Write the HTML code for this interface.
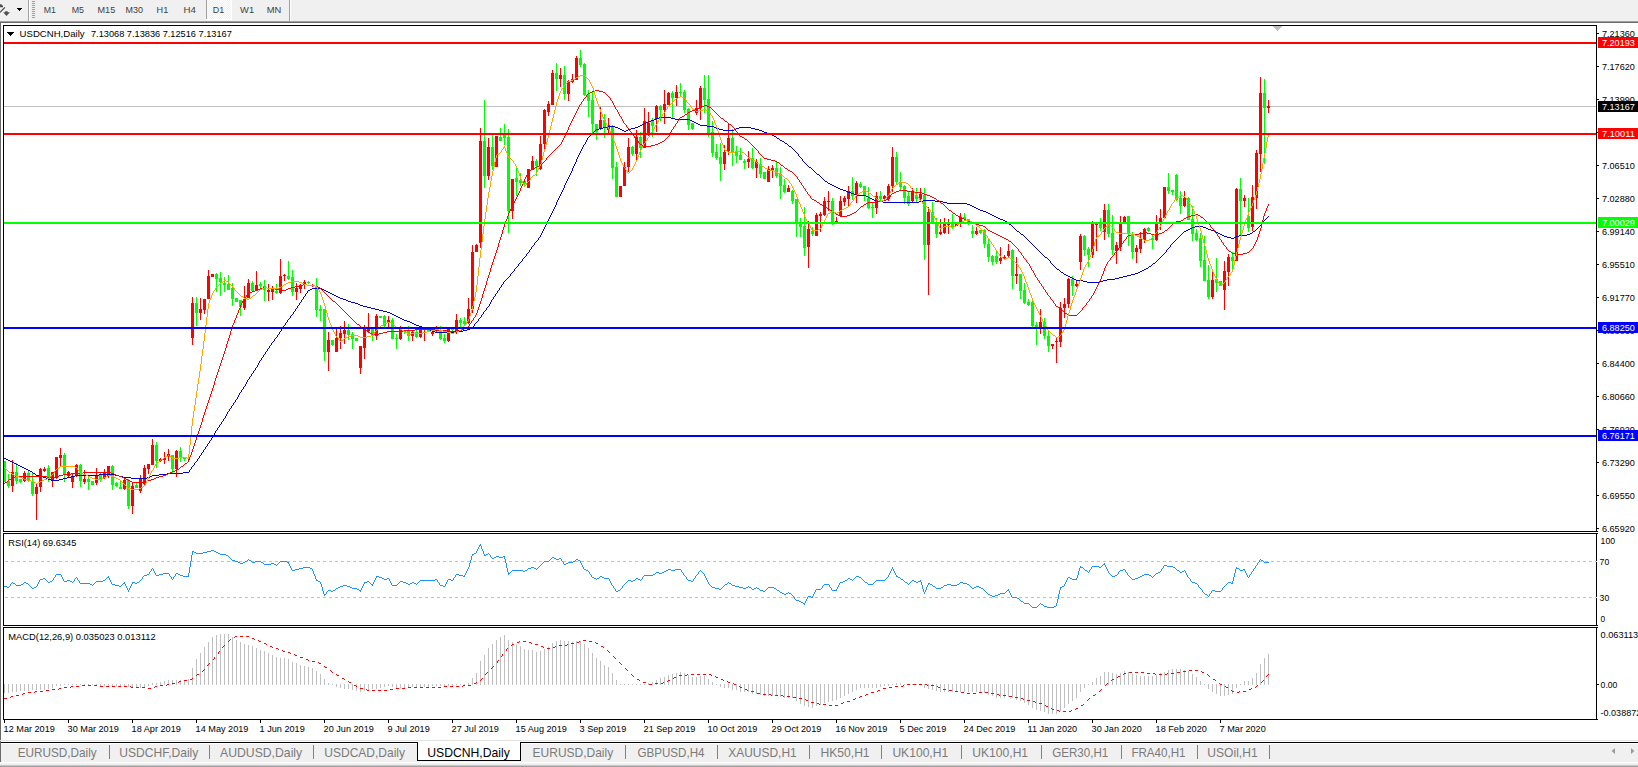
<!DOCTYPE html><html><head><meta charset="utf-8"><title>USDCNH,Daily</title>
<style>html,body{margin:0;padding:0;background:#fff;overflow:hidden}body{width:1638px;height:767px;position:relative;font-family:"Liberation Sans",sans-serif}svg{position:absolute;left:0;top:0;display:block}text{font-family:"Liberation Sans",sans-serif}</style></head><body>
<svg width="1638" height="767" viewBox="0 0 1638 767">
<g shape-rendering="crispEdges">
<rect x="0" y="0" width="1638" height="21" fill="#f0f0f0"/>
<rect x="0" y="21" width="1638" height="1" fill="#a0a0a0"/>
<rect x="0" y="22" width="1638" height="1" fill="#696969"/>
<rect x="0" y="23" width="1" height="719" fill="#696969"/>
<rect x="28" y="0" width="1" height="21" fill="#a0a0a0"/>
<rect x="29" y="0" width="1" height="21" fill="#ffffff"/>
<rect x="289" y="0" width="1" height="21" fill="#a0a0a0"/>
<rect x="290" y="0" width="1" height="21" fill="#ffffff"/>
<rect x="32" y="1" width="3" height="1" fill="#a0a0a0"/>
<rect x="32" y="3" width="3" height="1" fill="#a0a0a0"/>
<rect x="32" y="5" width="3" height="1" fill="#a0a0a0"/>
<rect x="32" y="7" width="3" height="1" fill="#a0a0a0"/>
<rect x="32" y="9" width="3" height="1" fill="#a0a0a0"/>
<rect x="32" y="11" width="3" height="1" fill="#a0a0a0"/>
<rect x="32" y="13" width="3" height="1" fill="#a0a0a0"/>
<rect x="32" y="15" width="3" height="1" fill="#a0a0a0"/>
<rect x="32" y="17" width="3" height="1" fill="#a0a0a0"/>
<defs><pattern id="ck" width="2" height="2" patternUnits="userSpaceOnUse"><rect width="2" height="2" fill="#f0f0f0"/><rect width="1" height="1" fill="#fff"/><rect x="1" y="1" width="1" height="1" fill="#fff"/></pattern></defs>
<rect x="206" y="0" width="1" height="19" fill="#a0a0a0"/>
<rect x="207" y="0" width="24" height="19" fill="url(#ck)"/>
<rect x="231" y="0" width="1" height="20" fill="#ffffff"/>
<rect x="206" y="19" width="26" height="1" fill="#ffffff"/>
<rect x="0" y="740" width="1638" height="1" fill="#e3e3e3"/>
<rect x="0" y="743" width="1638" height="1" fill="#ffffff"/>
<rect x="0" y="744" width="1638" height="18" fill="#f0f0f0"/>
<rect x="0" y="742" width="1638" height="1" fill="#000000"/>
<rect x="0" y="762" width="1638" height="1" fill="#ffffff"/>
<rect x="0" y="763" width="1638" height="1" fill="#f2f2f2"/>
<rect x="0" y="764" width="1638" height="1" fill="#ececec"/>
<rect x="0" y="765" width="1638" height="1" fill="#c8c8c8"/>
<rect x="0" y="766" width="1638" height="1" fill="#a0a0a0"/>
<rect x="0" y="742" width="1" height="20" fill="#696969"/>
<rect x="417" y="742" width="104" height="19" fill="#ffffff"/>
<rect x="417" y="742" width="1" height="19" fill="#000"/>
<rect x="520" y="742" width="1" height="19" fill="#000"/>
<rect x="417" y="760" width="104" height="1" fill="#000"/>
<rect x="418" y="742" width="102" height="1" fill="#ffffff"/>
<rect x="109" y="745" width="1" height="14" fill="#808080"/>
<rect x="209" y="745" width="1" height="14" fill="#808080"/>
<rect x="313" y="745" width="1" height="14" fill="#808080"/>
<rect x="625" y="745" width="1" height="14" fill="#808080"/>
<rect x="717" y="745" width="1" height="14" fill="#808080"/>
<rect x="809" y="745" width="1" height="14" fill="#808080"/>
<rect x="881" y="745" width="1" height="14" fill="#808080"/>
<rect x="961" y="745" width="1" height="14" fill="#808080"/>
<rect x="1041" y="745" width="1" height="14" fill="#808080"/>
<rect x="1121" y="745" width="1" height="14" fill="#808080"/>
<rect x="1197" y="745" width="1" height="14" fill="#808080"/>
<rect x="1269" y="745" width="1" height="14" fill="#808080"/>
<rect x="3" y="25" width="1594" height="1" fill="#000"/>
<rect x="3" y="531" width="1594" height="1" fill="#000"/>
<rect x="3" y="25" width="1" height="507" fill="#000"/>
<rect x="1596" y="25" width="1" height="507" fill="#000"/>
<rect x="3" y="533" width="1594" height="1" fill="#000"/>
<rect x="3" y="625" width="1594" height="1" fill="#000"/>
<rect x="3" y="533" width="1" height="93" fill="#000"/>
<rect x="1596" y="533" width="1" height="93" fill="#000"/>
<rect x="3" y="627" width="1594" height="1" fill="#000"/>
<rect x="3" y="719" width="1594" height="1" fill="#000"/>
<rect x="3" y="627" width="1" height="93" fill="#000"/>
<rect x="1596" y="627" width="1" height="93" fill="#000"/>
<rect x="1597" y="33" width="2" height="1" fill="#000"/>
<rect x="1597" y="66" width="2" height="1" fill="#000"/>
<rect x="1597" y="99" width="2" height="1" fill="#000"/>
<rect x="1597" y="132" width="2" height="1" fill="#000"/>
<rect x="1597" y="165" width="2" height="1" fill="#000"/>
<rect x="1597" y="198" width="2" height="1" fill="#000"/>
<rect x="1597" y="231" width="2" height="1" fill="#000"/>
<rect x="1597" y="264" width="2" height="1" fill="#000"/>
<rect x="1597" y="297" width="2" height="1" fill="#000"/>
<rect x="1597" y="330" width="2" height="1" fill="#000"/>
<rect x="1597" y="363" width="2" height="1" fill="#000"/>
<rect x="1597" y="396" width="2" height="1" fill="#000"/>
<rect x="1597" y="429" width="2" height="1" fill="#000"/>
<rect x="1597" y="462" width="2" height="1" fill="#000"/>
<rect x="1597" y="495" width="2" height="1" fill="#000"/>
<rect x="1597" y="528" width="2" height="1" fill="#000"/>
<rect x="1597" y="684" width="2" height="1" fill="#000"/>
<rect x="1597" y="531" width="1" height="1" fill="#000"/>
<rect x="1597" y="533" width="1" height="1" fill="#000"/>
<rect x="1597" y="625" width="1" height="1" fill="#000"/>
<rect x="1597" y="627" width="1" height="1" fill="#000"/>
<rect x="1597" y="719" width="1" height="1" fill="#000"/>
<rect x="4" y="720" width="1" height="3" fill="#000"/>
<rect x="68" y="720" width="1" height="3" fill="#000"/>
<rect x="132" y="720" width="1" height="3" fill="#000"/>
<rect x="196" y="720" width="1" height="3" fill="#000"/>
<rect x="260" y="720" width="1" height="3" fill="#000"/>
<rect x="324" y="720" width="1" height="3" fill="#000"/>
<rect x="388" y="720" width="1" height="3" fill="#000"/>
<rect x="452" y="720" width="1" height="3" fill="#000"/>
<rect x="516" y="720" width="1" height="3" fill="#000"/>
<rect x="580" y="720" width="1" height="3" fill="#000"/>
<rect x="644" y="720" width="1" height="3" fill="#000"/>
<rect x="708" y="720" width="1" height="3" fill="#000"/>
<rect x="772" y="720" width="1" height="3" fill="#000"/>
<rect x="836" y="720" width="1" height="3" fill="#000"/>
<rect x="900" y="720" width="1" height="3" fill="#000"/>
<rect x="964" y="720" width="1" height="3" fill="#000"/>
<rect x="1028" y="720" width="1" height="3" fill="#000"/>
<rect x="1092" y="720" width="1" height="3" fill="#000"/>
<rect x="1156" y="720" width="1" height="3" fill="#000"/>
<rect x="1220" y="720" width="1" height="3" fill="#000"/>
</g>
<defs><clipPath id="cm"><rect x="4" y="26" width="1592" height="505"/></clipPath><clipPath id="cr"><rect x="4" y="534" width="1592" height="91"/></clipPath><clipPath id="cd"><rect x="4" y="628" width="1592" height="91"/></clipPath></defs>
<g clip-path="url(#cm)" shape-rendering="crispEdges">
<rect x="4" y="106" width="1592" height="1" fill="#c0c0c0"/>
<path d="M1272 26h10l-5 5z" fill="#c0c0c0"/>
<path d="M4 461h1v21h-1zM3 461h3v21h-3z" fill="#00ff00"/>
<path d="M8 474h1v14h-1zM7 481h3v5h-3z" fill="#00ff00"/>
<path d="M12 460h1v32h-1zM11 472h3v14h-3z" fill="#ff0000"/>
<path d="M16 463h1v21h-1zM15 472h3v9h-3z" fill="#00ff00"/>
<path d="M20 479h1v4h-1zM19 479h3v3h-3z" fill="#00ff00"/>
<path d="M24 471h1v11h-1zM23 473h3v8h-3z" fill="#ff0000"/>
<path d="M28 471h1v11h-1zM27 473h3v8h-3z" fill="#00ff00"/>
<path d="M32 473h1v23h-1zM31 481h3v13h-3z" fill="#00ff00"/>
<path d="M36 483h1v37h-1zM35 487h3v7h-3z" fill="#ff0000"/>
<path d="M40 468h1v24h-1zM39 469h3v18h-3z" fill="#ff0000"/>
<path d="M44 467h1v5h-1zM43 469h3v2h-3z" fill="#ff0000"/>
<path d="M48 465h1v17h-1zM47 468h3v11h-3z" fill="#00ff00"/>
<path d="M52 472h1v15h-1zM51 472h3v8h-3z" fill="#ff0000"/>
<path d="M56 457h1v22h-1zM55 457h3v21h-3z" fill="#ff0000"/>
<path d="M60 448h1v18h-1zM59 455h3v3h-3z" fill="#ff0000"/>
<path d="M64 453h1v29h-1zM63 455h3v19h-3z" fill="#00ff00"/>
<path d="M68 471h1v6h-1zM67 472h3v4h-3z" fill="#ff0000"/>
<path d="M72 474h1v14h-1zM71 477h3v5h-3z" fill="#ff0000"/>
<path d="M76 464h1v13h-1zM75 465h3v11h-3z" fill="#ff0000"/>
<path d="M80 464h1v23h-1zM79 465h3v16h-3z" fill="#00ff00"/>
<path d="M84 470h1v14h-1zM83 479h3v3h-3z" fill="#ff0000"/>
<path d="M88 477h1v13h-1zM87 479h3v3h-3z" fill="#00ff00"/>
<path d="M92 481h1v4h-1zM91 481h3v4h-3z" fill="#00ff00"/>
<path d="M96 468h1v17h-1zM95 475h3v8h-3z" fill="#ff0000"/>
<path d="M100 472h1v10h-1zM99 474h3v5h-3z" fill="#00ff00"/>
<path d="M104 469h1v10h-1zM103 472h3v6h-3z" fill="#ff0000"/>
<path d="M108 466h1v12h-1zM107 466h3v10h-3z" fill="#ff0000"/>
<path d="M112 465h1v25h-1zM111 466h3v19h-3z" fill="#00ff00"/>
<path d="M116 482h1v5h-1zM115 483h3v3h-3z" fill="#00ff00"/>
<path d="M120 481h1v8h-1zM119 487h3v2h-3z" fill="#00ff00"/>
<path d="M124 478h1v12h-1zM123 480h3v9h-3z" fill="#ff0000"/>
<path d="M128 479h1v30h-1zM127 480h3v26h-3z" fill="#00ff00"/>
<path d="M132 482h1v32h-1zM131 486h3v20h-3z" fill="#ff0000"/>
<path d="M136 483h1v5h-1zM135 485h3v3h-3z" fill="#00ff00"/>
<path d="M140 475h1v18h-1zM139 479h3v12h-3z" fill="#ff0000"/>
<path d="M144 465h1v20h-1zM143 468h3v16h-3z" fill="#ff0000"/>
<path d="M148 464h1v10h-1zM147 464h3v5h-3z" fill="#ff0000"/>
<path d="M152 439h1v26h-1zM151 445h3v20h-3z" fill="#ff0000"/>
<path d="M156 442h1v26h-1zM155 445h3v16h-3z" fill="#00ff00"/>
<path d="M160 458h1v4h-1zM159 459h3v2h-3z" fill="#ff0000"/>
<path d="M164 452h1v12h-1zM163 458h3v2h-3z" fill="#ff0000"/>
<path d="M168 449h1v12h-1zM167 454h3v3h-3z" fill="#ff0000"/>
<path d="M172 455h1v18h-1zM171 455h3v14h-3z" fill="#00ff00"/>
<path d="M176 450h1v27h-1zM175 451h3v18h-3z" fill="#ff0000"/>
<path d="M180 447h1v15h-1zM179 451h3v7h-3z" fill="#00ff00"/>
<path d="M184 457h1v4h-1zM183 458h3v1h-3z" fill="#00ff00"/>
<path d="M188 458h1v2h-1zM187 458h3v1h-3z" fill="#ff0000"/>
<path d="M192 297h1v48h-1zM191 303h3v35h-3z" fill="#ff0000"/>
<path d="M196 297h1v29h-1zM195 303h3v10h-3z" fill="#00ff00"/>
<path d="M200 298h1v22h-1zM199 309h3v4h-3z" fill="#ff0000"/>
<path d="M204 299h1v15h-1zM203 299h3v11h-3z" fill="#ff0000"/>
<path d="M208 270h1v29h-1zM207 276h3v23h-3z" fill="#ff0000"/>
<path d="M212 274h1v3h-1zM211 274h3v3h-3z" fill="#ff0000"/>
<path d="M216 273h1v19h-1zM215 274h3v5h-3z" fill="#00ff00"/>
<path d="M220 272h1v24h-1zM219 278h3v4h-3z" fill="#00ff00"/>
<path d="M224 277h1v15h-1zM223 283h3v2h-3z" fill="#00ff00"/>
<path d="M228 275h1v15h-1zM227 284h3v6h-3z" fill="#00ff00"/>
<path d="M232 283h1v23h-1zM231 288h3v11h-3z" fill="#00ff00"/>
<path d="M236 298h1v4h-1zM235 298h3v4h-3z" fill="#00ff00"/>
<path d="M240 300h1v16h-1zM239 300h3v7h-3z" fill="#00ff00"/>
<path d="M244 286h1v24h-1zM243 299h3v9h-3z" fill="#ff0000"/>
<path d="M248 279h1v19h-1zM247 283h3v15h-3z" fill="#ff0000"/>
<path d="M252 281h1v10h-1zM251 283h3v8h-3z" fill="#00ff00"/>
<path d="M256 271h1v20h-1zM255 285h3v6h-3z" fill="#ff0000"/>
<path d="M260 282h1v6h-1zM259 284h3v2h-3z" fill="#00ff00"/>
<path d="M264 280h1v21h-1zM263 286h3v4h-3z" fill="#00ff00"/>
<path d="M268 284h1v17h-1zM267 290h3v2h-3z" fill="#ff0000"/>
<path d="M272 286h1v14h-1zM271 289h3v3h-3z" fill="#ff0000"/>
<path d="M276 284h1v10h-1zM275 291h3v2h-3z" fill="#00ff00"/>
<path d="M280 259h1v35h-1zM279 276h3v17h-3z" fill="#ff0000"/>
<path d="M284 274h1v7h-1zM283 275h3v1h-3z" fill="#ff0000"/>
<path d="M288 261h1v19h-1zM287 276h3v3h-3z" fill="#00ff00"/>
<path d="M292 270h1v26h-1zM291 277h3v15h-3z" fill="#00ff00"/>
<path d="M296 283h1v17h-1zM295 288h3v4h-3z" fill="#ff0000"/>
<path d="M300 284h1v9h-1zM299 285h3v4h-3z" fill="#ff0000"/>
<path d="M304 280h1v9h-1zM303 282h3v2h-3z" fill="#ff0000"/>
<path d="M308 281h1v3h-1zM307 282h3v1h-3z" fill="#00ff00"/>
<path d="M312 284h1v3h-1zM311 285h3v1h-3z" fill="#ff0000"/>
<path d="M316 278h1v39h-1zM315 286h3v24h-3z" fill="#00ff00"/>
<path d="M320 305h1v16h-1zM319 309h3v2h-3z" fill="#00ff00"/>
<path d="M324 309h1v52h-1zM323 309h3v43h-3z" fill="#00ff00"/>
<path d="M328 332h1v39h-1zM327 340h3v12h-3z" fill="#ff0000"/>
<path d="M332 340h1v6h-1zM331 340h3v5h-3z" fill="#00ff00"/>
<path d="M336 329h1v23h-1zM335 338h3v14h-3z" fill="#ff0000"/>
<path d="M340 326h1v23h-1zM339 333h3v5h-3z" fill="#ff0000"/>
<path d="M344 321h1v23h-1zM343 330h3v4h-3z" fill="#ff0000"/>
<path d="M348 324h1v16h-1zM347 330h3v5h-3z" fill="#00ff00"/>
<path d="M352 332h1v17h-1zM351 334h3v5h-3z" fill="#00ff00"/>
<path d="M356 338h1v3h-1zM355 338h3v3h-3z" fill="#00ff00"/>
<path d="M360 346h1v28h-1zM359 346h3v22h-3z" fill="#ff0000"/>
<path d="M364 325h1v34h-1zM363 329h3v19h-3z" fill="#ff0000"/>
<path d="M368 313h1v19h-1zM367 329h3v2h-3z" fill="#ff0000"/>
<path d="M372 329h1v12h-1zM371 329h3v7h-3z" fill="#00ff00"/>
<path d="M376 314h1v26h-1zM375 316h3v20h-3z" fill="#ff0000"/>
<path d="M380 316h1v2h-1zM379 316h3v2h-3z" fill="#00ff00"/>
<path d="M384 315h1v12h-1zM383 316h3v10h-3z" fill="#00ff00"/>
<path d="M388 316h1v13h-1zM387 320h3v3h-3z" fill="#ff0000"/>
<path d="M392 318h1v21h-1zM391 320h3v19h-3z" fill="#00ff00"/>
<path d="M396 334h1v15h-1zM395 338h3v1h-3z" fill="#00ff00"/>
<path d="M400 326h1v14h-1zM399 329h3v10h-3z" fill="#ff0000"/>
<path d="M404 330h1v4h-1zM403 331h3v1h-3z" fill="#00ff00"/>
<path d="M408 326h1v15h-1zM407 330h3v6h-3z" fill="#00ff00"/>
<path d="M412 331h1v10h-1zM411 332h3v4h-3z" fill="#ff0000"/>
<path d="M416 329h1v9h-1zM415 332h3v5h-3z" fill="#00ff00"/>
<path d="M420 326h1v12h-1zM419 329h3v8h-3z" fill="#ff0000"/>
<path d="M424 329h1v12h-1zM423 329h3v1h-3z" fill="#ff0000"/>
<path d="M428 329h1v3h-1zM427 330h3v1h-3z" fill="#00ff00"/>
<path d="M432 331h1v5h-1zM431 332h3v2h-3z" fill="#ff0000"/>
<path d="M436 326h1v6h-1zM435 329h3v2h-3z" fill="#ff0000"/>
<path d="M440 326h1v14h-1zM439 330h3v9h-3z" fill="#00ff00"/>
<path d="M444 334h1v9h-1zM443 338h3v3h-3z" fill="#00ff00"/>
<path d="M448 329h1v13h-1zM447 329h3v12h-3z" fill="#ff0000"/>
<path d="M452 328h1v3h-1zM451 329h3v1h-3z" fill="#00ff00"/>
<path d="M456 314h1v20h-1zM455 320h3v10h-3z" fill="#ff0000"/>
<path d="M460 318h1v9h-1zM459 320h3v3h-3z" fill="#00ff00"/>
<path d="M464 317h1v8h-1zM463 321h3v3h-3z" fill="#00ff00"/>
<path d="M468 298h1v26h-1zM467 309h3v14h-3z" fill="#ff0000"/>
<path d="M472 245h1v68h-1zM471 252h3v57h-3z" fill="#ff0000"/>
<path d="M476 244h1v8h-1zM475 245h3v7h-3z" fill="#ff0000"/>
<path d="M480 128h1v120h-1zM479 141h3v102h-3z" fill="#ff0000"/>
<path d="M484 100h1v88h-1zM483 141h3v35h-3z" fill="#00ff00"/>
<path d="M488 138h1v42h-1zM487 147h3v29h-3z" fill="#ff0000"/>
<path d="M492 135h1v35h-1zM491 147h3v19h-3z" fill="#00ff00"/>
<path d="M496 136h1v31h-1zM495 136h3v31h-3z" fill="#ff0000"/>
<path d="M500 128h1v13h-1zM499 137h3v4h-3z" fill="#00ff00"/>
<path d="M504 124h1v21h-1zM503 135h3v3h-3z" fill="#00ff00"/>
<path d="M508 129h1v104h-1zM507 137h3v74h-3z" fill="#00ff00"/>
<path d="M512 179h1v40h-1zM511 179h3v32h-3z" fill="#ff0000"/>
<path d="M516 167h1v29h-1zM515 178h3v4h-3z" fill="#00ff00"/>
<path d="M520 173h1v13h-1zM519 180h3v3h-3z" fill="#00ff00"/>
<path d="M524 181h1v6h-1zM523 181h3v3h-3z" fill="#00ff00"/>
<path d="M528 169h1v19h-1zM527 169h3v19h-3z" fill="#ff0000"/>
<path d="M532 156h1v14h-1zM531 161h3v9h-3z" fill="#ff0000"/>
<path d="M536 159h1v17h-1zM535 161h3v5h-3z" fill="#00ff00"/>
<path d="M540 136h1v34h-1zM539 144h3v25h-3z" fill="#ff0000"/>
<path d="M544 109h1v40h-1zM543 110h3v34h-3z" fill="#ff0000"/>
<path d="M548 101h1v15h-1zM547 104h3v8h-3z" fill="#ff0000"/>
<path d="M552 70h1v35h-1zM551 73h3v32h-3z" fill="#ff0000"/>
<path d="M556 63h1v28h-1zM555 73h3v6h-3z" fill="#00ff00"/>
<path d="M560 68h1v19h-1zM559 75h3v4h-3z" fill="#ff0000"/>
<path d="M564 66h1v34h-1zM563 75h3v19h-3z" fill="#00ff00"/>
<path d="M568 80h1v21h-1zM567 81h3v13h-3z" fill="#ff0000"/>
<path d="M572 74h1v9h-1zM571 79h3v3h-3z" fill="#ff0000"/>
<path d="M576 56h1v24h-1zM575 58h3v22h-3z" fill="#ff0000"/>
<path d="M580 50h1v17h-1zM579 58h3v7h-3z" fill="#00ff00"/>
<path d="M584 63h1v33h-1zM583 64h3v31h-3z" fill="#00ff00"/>
<path d="M588 90h1v27h-1zM587 95h3v6h-3z" fill="#00ff00"/>
<path d="M592 92h1v41h-1zM591 100h3v24h-3z" fill="#00ff00"/>
<path d="M596 124h1v16h-1zM595 124h3v8h-3z" fill="#00ff00"/>
<path d="M600 107h1v23h-1zM599 120h3v8h-3z" fill="#ff0000"/>
<path d="M604 114h1v24h-1zM603 120h3v7h-3z" fill="#00ff00"/>
<path d="M608 118h1v16h-1zM607 125h3v5h-3z" fill="#ff0000"/>
<path d="M612 125h1v54h-1zM611 126h3v42h-3z" fill="#00ff00"/>
<path d="M616 162h1v35h-1zM615 167h3v30h-3z" fill="#00ff00"/>
<path d="M620 186h1v11h-1zM619 186h3v11h-3z" fill="#ff0000"/>
<path d="M624 162h1v24h-1zM623 167h3v19h-3z" fill="#ff0000"/>
<path d="M628 138h1v34h-1zM627 147h3v20h-3z" fill="#ff0000"/>
<path d="M632 146h1v10h-1zM631 147h3v7h-3z" fill="#00ff00"/>
<path d="M636 130h1v30h-1zM635 137h3v17h-3z" fill="#ff0000"/>
<path d="M640 132h1v26h-1zM639 137h3v11h-3z" fill="#00ff00"/>
<path d="M644 108h1v40h-1zM643 121h3v27h-3z" fill="#ff0000"/>
<path d="M648 112h1v24h-1zM647 123h3v12h-3z" fill="#ff0000"/>
<path d="M652 118h1v19h-1zM651 121h3v5h-3z" fill="#00ff00"/>
<path d="M656 105h1v27h-1zM655 106h3v13h-3z" fill="#ff0000"/>
<path d="M660 105h1v16h-1zM659 106h3v4h-3z" fill="#00ff00"/>
<path d="M664 90h1v34h-1zM663 104h3v6h-3z" fill="#ff0000"/>
<path d="M668 92h1v13h-1zM667 93h3v12h-3z" fill="#ff0000"/>
<path d="M672 91h1v27h-1zM671 93h3v5h-3z" fill="#00ff00"/>
<path d="M676 85h1v21h-1zM675 92h3v6h-3z" fill="#ff0000"/>
<path d="M680 83h1v13h-1zM679 92h3v1h-3z" fill="#00ff00"/>
<path d="M684 90h1v23h-1zM683 92h3v18h-3z" fill="#00ff00"/>
<path d="M688 108h1v22h-1zM687 109h3v16h-3z" fill="#00ff00"/>
<path d="M692 123h1v7h-1zM691 123h3v6h-3z" fill="#00ff00"/>
<path d="M696 100h1v15h-1zM695 108h3v5h-3z" fill="#ff0000"/>
<path d="M700 86h1v34h-1zM699 88h3v20h-3z" fill="#ff0000"/>
<path d="M704 75h1v38h-1zM703 88h3v12h-3z" fill="#00ff00"/>
<path d="M708 75h1v62h-1zM707 99h3v34h-3z" fill="#00ff00"/>
<path d="M712 121h1v36h-1zM711 132h3v21h-3z" fill="#00ff00"/>
<path d="M716 144h1v16h-1zM715 152h3v6h-3z" fill="#00ff00"/>
<path d="M720 143h1v38h-1zM719 157h3v7h-3z" fill="#00ff00"/>
<path d="M724 145h1v25h-1zM723 152h3v12h-3z" fill="#ff0000"/>
<path d="M728 124h1v31h-1zM727 138h3v13h-3z" fill="#ff0000"/>
<path d="M732 129h1v37h-1zM731 138h3v14h-3z" fill="#00ff00"/>
<path d="M736 146h1v17h-1zM735 152h3v4h-3z" fill="#00ff00"/>
<path d="M740 148h1v12h-1zM739 155h3v5h-3z" fill="#00ff00"/>
<path d="M744 159h1v10h-1zM743 161h3v2h-3z" fill="#00ff00"/>
<path d="M748 151h1v17h-1zM747 159h3v3h-3z" fill="#ff0000"/>
<path d="M752 148h1v21h-1zM751 158h3v10h-3z" fill="#00ff00"/>
<path d="M756 159h1v19h-1zM755 162h3v6h-3z" fill="#ff0000"/>
<path d="M760 158h1v20h-1zM759 164h3v10h-3z" fill="#00ff00"/>
<path d="M764 172h1v7h-1zM763 172h3v7h-3z" fill="#00ff00"/>
<path d="M768 166h1v16h-1zM767 169h3v13h-3z" fill="#ff0000"/>
<path d="M772 165h1v13h-1zM771 168h3v2h-3z" fill="#ff0000"/>
<path d="M776 162h1v16h-1zM775 168h3v8h-3z" fill="#00ff00"/>
<path d="M780 167h1v32h-1zM779 174h3v12h-3z" fill="#00ff00"/>
<path d="M784 179h1v14h-1zM783 185h3v7h-3z" fill="#00ff00"/>
<path d="M788 185h1v7h-1zM787 188h3v4h-3z" fill="#ff0000"/>
<path d="M792 190h1v14h-1zM791 191h3v10h-3z" fill="#00ff00"/>
<path d="M796 199h1v38h-1zM795 199h3v23h-3z" fill="#00ff00"/>
<path d="M800 218h1v19h-1zM799 222h3v5h-3z" fill="#00ff00"/>
<path d="M804 207h1v49h-1zM803 226h3v22h-3z" fill="#00ff00"/>
<path d="M808 221h1v47h-1zM807 229h3v18h-3z" fill="#ff0000"/>
<path d="M812 227h1v9h-1zM811 231h3v3h-3z" fill="#00ff00"/>
<path d="M816 213h1v23h-1zM815 215h3v21h-3z" fill="#ff0000"/>
<path d="M820 212h1v20h-1zM819 214h3v2h-3z" fill="#ff0000"/>
<path d="M824 197h1v19h-1zM823 201h3v14h-3z" fill="#ff0000"/>
<path d="M828 191h1v20h-1zM827 201h3v1h-3z" fill="#ff0000"/>
<path d="M832 198h1v27h-1zM831 201h3v22h-3z" fill="#00ff00"/>
<path d="M836 217h1v5h-1zM835 221h3v1h-3z" fill="#ff0000"/>
<path d="M840 196h1v20h-1zM839 201h3v15h-3z" fill="#ff0000"/>
<path d="M844 196h1v10h-1zM843 198h3v4h-3z" fill="#ff0000"/>
<path d="M848 186h1v21h-1zM847 191h3v8h-3z" fill="#ff0000"/>
<path d="M852 177h1v23h-1zM851 191h3v5h-3z" fill="#00ff00"/>
<path d="M856 181h1v22h-1zM855 183h3v12h-3z" fill="#ff0000"/>
<path d="M860 182h1v6h-1zM859 184h3v3h-3z" fill="#00ff00"/>
<path d="M864 186h1v15h-1zM863 186h3v10h-3z" fill="#00ff00"/>
<path d="M868 187h1v22h-1zM867 198h3v10h-3z" fill="#00ff00"/>
<path d="M872 203h1v15h-1zM871 207h3v1h-3z" fill="#00ff00"/>
<path d="M876 192h1v22h-1zM875 196h3v12h-3z" fill="#ff0000"/>
<path d="M880 191h1v11h-1zM879 196h3v3h-3z" fill="#00ff00"/>
<path d="M884 195h1v4h-1zM883 196h3v3h-3z" fill="#ff0000"/>
<path d="M888 184h1v17h-1zM887 186h3v13h-3z" fill="#ff0000"/>
<path d="M892 147h1v45h-1zM891 157h3v29h-3z" fill="#ff0000"/>
<path d="M896 152h1v32h-1zM895 157h3v25h-3z" fill="#00ff00"/>
<path d="M900 172h1v18h-1zM899 182h3v5h-3z" fill="#00ff00"/>
<path d="M904 185h1v19h-1zM903 186h3v12h-3z" fill="#00ff00"/>
<path d="M908 192h1v14h-1zM907 196h3v8h-3z" fill="#00ff00"/>
<path d="M912 188h1v14h-1zM911 191h3v10h-3z" fill="#ff0000"/>
<path d="M916 188h1v14h-1zM915 195h3v4h-3z" fill="#00ff00"/>
<path d="M920 188h1v13h-1zM919 194h3v5h-3z" fill="#ff0000"/>
<path d="M924 188h1v72h-1zM923 195h3v50h-3z" fill="#00ff00"/>
<path d="M928 207h1v88h-1zM927 212h3v33h-3z" fill="#ff0000"/>
<path d="M932 202h1v21h-1zM931 212h3v10h-3z" fill="#00ff00"/>
<path d="M936 218h1v20h-1zM935 224h3v10h-3z" fill="#00ff00"/>
<path d="M940 219h1v16h-1zM939 232h3v2h-3z" fill="#ff0000"/>
<path d="M944 218h1v16h-1zM943 224h3v9h-3z" fill="#ff0000"/>
<path d="M948 219h1v15h-1zM947 224h3v1h-3z" fill="#ff0000"/>
<path d="M952 214h1v15h-1zM951 224h3v3h-3z" fill="#00ff00"/>
<path d="M956 224h1v2h-1zM955 224h3v2h-3z" fill="#ff0000"/>
<path d="M960 213h1v14h-1zM959 217h3v7h-3z" fill="#ff0000"/>
<path d="M964 213h1v7h-1zM963 217h3v2h-3z" fill="#00ff00"/>
<path d="M968 219h1v6h-1zM967 219h3v3h-3z" fill="#00ff00"/>
<path d="M972 225h1v13h-1zM971 231h3v3h-3z" fill="#00ff00"/>
<path d="M976 227h1v8h-1zM975 231h3v3h-3z" fill="#ff0000"/>
<path d="M980 230h1v4h-1zM979 230h3v3h-3z" fill="#00ff00"/>
<path d="M984 229h1v19h-1zM983 230h3v14h-3z" fill="#00ff00"/>
<path d="M988 239h1v23h-1zM987 244h3v13h-3z" fill="#00ff00"/>
<path d="M992 255h1v10h-1zM991 256h3v6h-3z" fill="#00ff00"/>
<path d="M996 251h1v13h-1zM995 256h3v6h-3z" fill="#00ff00"/>
<path d="M1000 247h1v17h-1zM999 258h3v3h-3z" fill="#ff0000"/>
<path d="M1004 255h1v5h-1zM1003 257h3v1h-3z" fill="#ff0000"/>
<path d="M1008 244h1v14h-1zM1007 251h3v5h-3z" fill="#ff0000"/>
<path d="M1012 249h1v40h-1zM1011 250h3v26h-3z" fill="#00ff00"/>
<path d="M1016 257h1v27h-1zM1015 274h3v2h-3z" fill="#ff0000"/>
<path d="M1020 274h1v25h-1zM1019 274h3v17h-3z" fill="#00ff00"/>
<path d="M1024 283h1v21h-1zM1023 290h3v13h-3z" fill="#00ff00"/>
<path d="M1028 299h1v7h-1zM1027 302h3v3h-3z" fill="#00ff00"/>
<path d="M1032 301h1v26h-1zM1031 302h3v24h-3z" fill="#00ff00"/>
<path d="M1036 322h1v23h-1zM1035 325h3v4h-3z" fill="#00ff00"/>
<path d="M1040 309h1v25h-1zM1039 322h3v7h-3z" fill="#ff0000"/>
<path d="M1044 318h1v21h-1zM1043 322h3v14h-3z" fill="#00ff00"/>
<path d="M1048 330h1v22h-1zM1047 336h3v10h-3z" fill="#00ff00"/>
<path d="M1052 344h1v5h-1zM1051 344h3v2h-3z" fill="#ff0000"/>
<path d="M1056 338h1v25h-1zM1055 341h3v1h-3z" fill="#ff0000"/>
<path d="M1060 302h1v45h-1zM1059 308h3v34h-3z" fill="#ff0000"/>
<path d="M1064 298h1v20h-1zM1063 304h3v4h-3z" fill="#ff0000"/>
<path d="M1068 278h1v30h-1zM1067 279h3v25h-3z" fill="#ff0000"/>
<path d="M1072 276h1v20h-1zM1071 279h3v7h-3z" fill="#00ff00"/>
<path d="M1076 281h1v6h-1zM1075 284h3v2h-3z" fill="#ff0000"/>
<path d="M1080 234h1v36h-1zM1079 236h3v26h-3z" fill="#ff0000"/>
<path d="M1084 235h1v21h-1zM1083 236h3v14h-3z" fill="#00ff00"/>
<path d="M1088 247h1v20h-1zM1087 249h3v6h-3z" fill="#00ff00"/>
<path d="M1092 221h1v37h-1zM1091 224h3v31h-3z" fill="#ff0000"/>
<path d="M1096 224h1v27h-1zM1095 224h3v1h-3z" fill="#ff0000"/>
<path d="M1100 218h1v13h-1zM1099 223h3v5h-3z" fill="#00ff00"/>
<path d="M1104 204h1v36h-1zM1103 210h3v22h-3z" fill="#ff0000"/>
<path d="M1108 204h1v33h-1zM1107 210h3v24h-3z" fill="#00ff00"/>
<path d="M1112 215h1v40h-1zM1111 233h3v17h-3z" fill="#00ff00"/>
<path d="M1116 242h1v22h-1zM1115 245h3v6h-3z" fill="#ff0000"/>
<path d="M1120 216h1v35h-1zM1119 224h3v23h-3z" fill="#ff0000"/>
<path d="M1124 216h1v6h-1zM1123 217h3v5h-3z" fill="#ff0000"/>
<path d="M1128 216h1v30h-1zM1127 216h3v18h-3z" fill="#00ff00"/>
<path d="M1132 232h1v27h-1zM1131 234h3v18h-3z" fill="#00ff00"/>
<path d="M1136 245h1v18h-1zM1135 248h3v4h-3z" fill="#ff0000"/>
<path d="M1140 232h1v21h-1zM1139 239h3v10h-3z" fill="#ff0000"/>
<path d="M1144 228h1v15h-1zM1143 229h3v11h-3z" fill="#ff0000"/>
<path d="M1148 227h1v5h-1zM1147 228h3v3h-3z" fill="#00ff00"/>
<path d="M1152 234h1v15h-1zM1151 238h3v2h-3z" fill="#00ff00"/>
<path d="M1156 215h1v26h-1zM1155 224h3v16h-3z" fill="#ff0000"/>
<path d="M1160 209h1v21h-1zM1159 218h3v4h-3z" fill="#ff0000"/>
<path d="M1164 187h1v31h-1zM1163 187h3v31h-3z" fill="#ff0000"/>
<path d="M1168 173h1v21h-1zM1167 187h3v4h-3z" fill="#00ff00"/>
<path d="M1172 190h1v5h-1zM1171 190h3v2h-3z" fill="#00ff00"/>
<path d="M1176 174h1v27h-1zM1175 175h3v25h-3z" fill="#00ff00"/>
<path d="M1180 191h1v23h-1zM1179 198h3v8h-3z" fill="#00ff00"/>
<path d="M1184 191h1v16h-1zM1183 198h3v8h-3z" fill="#ff0000"/>
<path d="M1188 197h1v23h-1zM1187 198h3v22h-3z" fill="#00ff00"/>
<path d="M1192 206h1v35h-1zM1191 219h3v15h-3z" fill="#00ff00"/>
<path d="M1196 229h1v12h-1zM1195 233h3v7h-3z" fill="#00ff00"/>
<path d="M1200 233h1v34h-1zM1199 238h3v23h-3z" fill="#00ff00"/>
<path d="M1204 236h1v45h-1zM1203 260h3v21h-3z" fill="#00ff00"/>
<path d="M1208 265h1v34h-1zM1207 280h3v17h-3z" fill="#00ff00"/>
<path d="M1212 272h1v27h-1zM1211 280h3v17h-3z" fill="#ff0000"/>
<path d="M1216 258h1v34h-1zM1215 279h3v4h-3z" fill="#00ff00"/>
<path d="M1220 281h1v5h-1zM1219 281h3v5h-3z" fill="#00ff00"/>
<path d="M1224 261h1v49h-1zM1223 271h3v19h-3z" fill="#ff0000"/>
<path d="M1228 254h1v32h-1zM1227 257h3v15h-3z" fill="#ff0000"/>
<path d="M1232 252h1v17h-1zM1231 257h3v4h-3z" fill="#00ff00"/>
<path d="M1236 188h1v73h-1zM1235 189h3v72h-3z" fill="#ff0000"/>
<path d="M1240 178h1v57h-1zM1239 189h3v12h-3z" fill="#00ff00"/>
<path d="M1244 195h1v12h-1zM1243 198h3v3h-3z" fill="#ff0000"/>
<path d="M1248 198h1v34h-1zM1247 216h3v12h-3z" fill="#00ff00"/>
<path d="M1252 185h1v46h-1zM1251 197h3v30h-3z" fill="#ff0000"/>
<path d="M1256 150h1v59h-1zM1255 153h3v45h-3z" fill="#ff0000"/>
<path d="M1260 77h1v95h-1zM1259 93h3v61h-3z" fill="#ff0000"/>
<path d="M1264 79h1v85h-1zM1263 93h3v15h-3z" fill="#00ff00"/>
<path d="M1268 100h1v13h-1zM1267 106h3v2h-3z" fill="#ff0000"/>
<rect x="187" y="458" width="3" height="1" fill="#000"/>
</g>
<g clip-path="url(#cm)" shape-rendering="crispEdges">
<path d="M659 117h12v1h-12zM656 118h3v1h-3zM671 118h4v1h-4zM654 119h2v1h-2zM675 119h15v1h-15zM651 120h3v1h-3zM690 120h2v1h-2zM648 121h3v1h-3zM692 121h2v1h-2zM646 122h2v1h-2zM694 122h2v1h-2zM644 123h2v1h-2zM696 123h2v1h-2zM642 124h2v1h-2zM698 124h2v1h-2zM640 125h2v1h-2zM700 125h7v1h-7zM607 126h8v1h-8zM638 126h2v1h-2zM707 126h7v1h-7zM603 127h4v1h-4zM615 127h3v1h-3zM635 127h3v1h-3zM714 127h2v1h-2zM739 127h12v1h-12zM599 128h4v1h-4zM618 128h2v1h-2zM631 128h4v1h-4zM716 128h3v1h-3zM736 128h3v1h-3zM751 128h4v1h-4zM596 129h3v1h-3zM620 129h2v1h-2zM628 129h3v1h-3zM719 129h4v1h-4zM734 129h2v1h-2zM755 129h4v1h-4zM595 130h1v1h-1zM622 130h2v1h-2zM626 130h2v1h-2zM723 130h11v1h-11zM759 130h3v1h-3zM594 131h1v1h-1zM624 131h2v1h-2zM762 131h2v1h-2zM593 132h1v1h-1zM764 132h3v1h-3zM592 133h1v1h-1zM767 133h3v1h-3zM591 134h1v1h-1zM770 134h2v1h-2zM590 135h1v1h-1zM772 135h2v1h-2zM589 136h1v1h-1zM774 136h2v1h-2zM588 137h1v1h-1zM776 137h1v1h-1zM777 138h2v1h-2zM587 138h1v2h-1zM779 139h1v1h-1zM780 140h2v1h-2zM586 140h1v2h-1zM782 141h2v1h-2zM784 142h1v1h-1zM585 142h1v2h-1zM785 143h2v1h-2zM584 144h1v1h-1zM787 144h1v1h-1zM788 145h1v1h-1zM583 145h1v2h-1zM789 146h2v1h-2zM791 147h1v1h-1zM582 147h1v2h-1zM792 148h1v1h-1zM793 149h1v1h-1zM581 149h1v2h-1zM794 150h1v1h-1zM795 151h1v1h-1zM580 151h1v2h-1zM796 152h1v1h-1zM797 153h1v1h-1zM579 153h1v2h-1zM798 154h1v2h-1zM578 155h1v2h-1zM799 156h1v1h-1zM800 157h1v1h-1zM577 157h1v2h-1zM801 158h1v1h-1zM802 159h1v2h-1zM576 159h1v3h-1zM803 161h1v1h-1zM804 162h1v1h-1zM575 162h1v2h-1zM805 163h1v1h-1zM806 164h1v1h-1zM574 164h1v2h-1zM807 165h1v1h-1zM808 166h1v1h-1zM573 166h1v2h-1zM809 167h2v1h-2zM811 168h1v1h-1zM572 168h1v3h-1zM812 169h1v1h-1zM813 170h1v1h-1zM814 171h1v1h-1zM571 171h1v2h-1zM815 172h1v1h-1zM816 173h1v1h-1zM570 173h1v2h-1zM817 174h2v1h-2zM819 175h1v1h-1zM569 175h1v2h-1zM820 176h1v1h-1zM821 177h1v1h-1zM568 177h1v2h-1zM822 178h1v1h-1zM823 179h1v1h-1zM567 179h1v2h-1zM824 180h1v1h-1zM825 181h2v1h-2zM566 181h1v2h-1zM827 182h1v1h-1zM828 183h2v1h-2zM565 183h1v2h-1zM830 184h2v1h-2zM832 185h2v1h-2zM564 185h1v3h-1zM834 186h2v1h-2zM836 187h2v1h-2zM838 188h2v1h-2zM563 188h1v2h-1zM840 189h3v1h-3zM843 190h3v1h-3zM562 190h1v2h-1zM846 191h2v1h-2zM848 192h3v1h-3zM561 192h1v2h-1zM851 193h3v1h-3zM854 194h2v1h-2zM560 194h1v2h-1zM856 195h10v1h-10zM866 196h2v1h-2zM559 196h1v2h-1zM868 197h2v1h-2zM870 198h2v1h-2zM558 198h1v2h-1zM872 199h2v1h-2zM874 200h2v1h-2zM923 200h12v1h-12zM557 200h1v2h-1zM876 201h7v1h-7zM919 201h4v1h-4zM935 201h8v1h-8zM883 202h36v1h-36zM943 202h4v1h-4zM556 202h1v3h-1zM947 203h20v1h-20zM967 204h3v1h-3zM970 205h2v1h-2zM555 205h1v2h-1zM972 206h2v1h-2zM974 207h2v1h-2zM554 207h1v2h-1zM976 208h2v1h-2zM978 209h2v1h-2zM553 209h1v2h-1zM980 210h3v1h-3zM983 211h3v1h-3zM552 211h1v2h-1zM986 212h2v1h-2zM988 213h2v1h-2zM551 213h1v2h-1zM990 214h2v1h-2zM992 215h2v1h-2zM550 215h1v2h-1zM994 216h2v1h-2zM1268 216h1v1h-1zM996 217h2v1h-2zM1267 217h1v1h-1zM549 217h1v2h-1zM998 218h2v1h-2zM1266 218h1v1h-1zM1000 219h3v1h-3zM1265 219h1v1h-1zM548 219h1v2h-1zM1003 220h2v1h-2zM1264 220h1v1h-1zM1005 221h2v1h-2zM1263 221h1v1h-1zM547 221h1v2h-1zM1007 222h1v1h-1zM1262 222h1v2h-1zM1008 223h1v1h-1zM546 223h1v2h-1zM1009 224h2v1h-2zM1261 224h1v1h-1zM1011 225h1v1h-1zM1260 225h1v1h-1zM545 225h1v2h-1zM1012 226h1v1h-1zM1195 226h8v1h-8zM1259 226h1v1h-1zM1013 227h1v1h-1zM1192 227h3v1h-3zM1203 227h3v1h-3zM1258 227h1v1h-1zM544 227h1v2h-1zM1014 228h1v1h-1zM1190 228h2v1h-2zM1206 228h2v1h-2zM1257 228h1v1h-1zM1015 229h1v1h-1zM1188 229h2v1h-2zM1208 229h3v1h-3zM1256 229h1v1h-1zM543 229h1v2h-1zM1016 230h1v1h-1zM1186 230h2v1h-2zM1211 230h3v1h-3zM1255 230h1v1h-1zM1017 231h2v1h-2zM1184 231h2v1h-2zM1214 231h2v1h-2zM1253 231h2v1h-2zM542 231h1v2h-1zM1019 232h1v1h-1zM1183 232h1v1h-1zM1216 232h2v1h-2zM1252 232h1v1h-1zM1020 233h1v1h-1zM1182 233h1v1h-1zM1218 233h2v1h-2zM1250 233h2v1h-2zM541 233h1v2h-1zM1021 234h2v1h-2zM1181 234h1v1h-1zM1220 234h2v1h-2zM1247 234h3v1h-3zM1023 235h1v1h-1zM1180 235h1v1h-1zM1222 235h2v1h-2zM1239 235h8v1h-8zM540 235h1v2h-1zM1024 236h1v1h-1zM1179 236h1v1h-1zM1224 236h3v1h-3zM1236 236h3v1h-3zM539 237h1v1h-1zM1025 237h1v1h-1zM1178 237h1v1h-1zM1227 237h4v1h-4zM1234 237h2v1h-2zM1026 238h1v1h-1zM1177 238h1v1h-1zM1231 238h3v1h-3zM538 238h1v2h-1zM1027 239h1v1h-1zM1176 239h1v1h-1zM537 240h1v1h-1zM1028 240h1v1h-1zM1175 240h1v1h-1zM536 241h1v1h-1zM1029 241h1v1h-1zM1174 241h1v1h-1zM535 242h1v1h-1zM1030 242h1v1h-1zM1173 242h1v1h-1zM1031 243h1v1h-1zM1172 243h1v1h-1zM534 243h1v2h-1zM1032 244h1v1h-1zM1171 244h1v1h-1zM533 245h1v1h-1zM1033 245h1v1h-1zM1170 245h1v2h-1zM532 246h1v1h-1zM1034 246h1v1h-1zM1035 247h1v1h-1zM1169 247h1v1h-1zM531 247h1v2h-1zM1036 248h1v1h-1zM1168 248h1v1h-1zM530 249h1v1h-1zM1037 249h1v1h-1zM1167 249h1v1h-1zM1038 250h1v1h-1zM529 250h1v2h-1zM1166 250h1v2h-1zM1039 251h1v1h-1zM528 252h1v1h-1zM1040 252h1v1h-1zM1165 252h1v1h-1zM527 253h1v1h-1zM1041 253h1v1h-1zM1164 253h1v1h-1zM1042 254h1v1h-1zM1163 254h1v1h-1zM526 254h1v2h-1zM1043 255h1v1h-1zM1162 255h1v1h-1zM525 256h1v1h-1zM1044 256h1v1h-1zM1161 256h1v1h-1zM524 257h1v1h-1zM1045 257h2v1h-2zM1160 257h1v1h-1zM523 258h1v1h-1zM1047 258h1v1h-1zM1159 258h1v1h-1zM1048 259h1v1h-1zM1158 259h1v1h-1zM522 259h1v2h-1zM1049 260h1v1h-1zM1157 260h1v1h-1zM521 261h1v1h-1zM1156 261h1v1h-1zM1050 261h1v2h-1zM520 262h1v1h-1zM1155 262h1v1h-1zM519 263h1v1h-1zM1051 263h1v1h-1zM1153 263h2v1h-2zM1052 264h1v1h-1zM1152 264h1v1h-1zM518 264h1v2h-1zM1053 265h1v1h-1zM1151 265h1v1h-1zM517 266h1v1h-1zM1054 266h1v1h-1zM1149 266h2v1h-2zM516 267h1v1h-1zM1055 267h1v1h-1zM1148 267h1v1h-1zM515 268h1v1h-1zM1056 268h1v1h-1zM1146 268h2v1h-2zM1057 269h2v1h-2zM1144 269h2v1h-2zM514 269h1v2h-1zM1059 270h1v1h-1zM1142 270h2v1h-2zM513 271h1v1h-1zM1060 271h1v1h-1zM1140 271h2v1h-2zM512 272h1v1h-1zM1061 272h2v1h-2zM1138 272h2v1h-2zM511 273h1v1h-1zM1063 273h1v1h-1zM1135 273h3v1h-3zM1064 274h2v1h-2zM1131 274h4v1h-4zM510 274h1v2h-1zM1066 275h2v1h-2zM1127 275h4v1h-4zM509 276h1v1h-1zM1068 276h2v1h-2zM1123 276h4v1h-4zM508 277h1v1h-1zM1070 277h2v1h-2zM1119 277h4v1h-4zM507 278h1v1h-1zM1072 278h2v1h-2zM1115 278h4v1h-4zM506 279h1v1h-1zM1074 279h2v1h-2zM1107 279h8v1h-8zM505 280h1v1h-1zM1076 280h7v1h-7zM1103 280h4v1h-4zM504 281h1v1h-1zM1083 281h4v1h-4zM1099 281h4v1h-4zM1087 282h12v1h-12zM503 282h1v2h-1zM502 284h1v1h-1zM501 285h1v2h-1zM500 287h1v1h-1zM312 288h10v1h-10zM499 288h1v2h-1zM310 289h2v1h-2zM322 289h2v1h-2zM308 290h2v1h-2zM324 290h2v1h-2zM498 290h1v1h-1zM326 291h2v1h-2zM307 291h1v2h-1zM497 291h1v2h-1zM328 292h2v1h-2zM306 293h1v1h-1zM330 293h2v1h-2zM496 293h1v1h-1zM332 294h2v1h-2zM305 294h1v2h-1zM495 294h1v2h-1zM334 295h2v1h-2zM304 296h1v1h-1zM336 296h2v1h-2zM494 296h1v1h-1zM338 297h2v1h-2zM303 297h1v2h-1zM493 297h1v2h-1zM340 298h3v1h-3zM302 299h1v1h-1zM343 299h3v1h-3zM492 299h1v1h-1zM346 300h2v1h-2zM301 300h1v2h-1zM491 300h1v2h-1zM348 301h3v1h-3zM300 302h1v1h-1zM351 302h4v1h-4zM490 302h1v2h-1zM355 303h3v1h-3zM299 303h1v2h-1zM358 304h2v1h-2zM489 304h1v2h-1zM298 305h1v1h-1zM360 305h3v1h-3zM363 306h4v1h-4zM488 306h1v1h-1zM297 306h1v2h-1zM367 307h4v1h-4zM487 307h1v1h-1zM296 308h1v1h-1zM371 308h4v1h-4zM486 308h1v2h-1zM375 309h4v1h-4zM295 309h1v2h-1zM379 310h4v1h-4zM485 310h1v1h-1zM294 311h1v1h-1zM383 311h4v1h-4zM484 311h1v1h-1zM387 312h3v1h-3zM293 312h1v2h-1zM483 312h1v2h-1zM390 313h2v1h-2zM292 314h1v1h-1zM392 314h2v1h-2zM482 314h1v1h-1zM291 315h1v1h-1zM394 315h2v1h-2zM481 315h1v2h-1zM396 316h2v1h-2zM290 316h1v2h-1zM398 317h2v1h-2zM480 317h1v1h-1zM289 318h1v1h-1zM400 318h2v1h-2zM479 318h1v1h-1zM288 319h1v1h-1zM402 319h2v1h-2zM478 319h1v2h-1zM404 320h3v1h-3zM287 320h1v2h-1zM407 321h3v1h-3zM477 321h1v1h-1zM286 322h1v1h-1zM410 322h2v1h-2zM476 322h1v1h-1zM412 323h2v1h-2zM475 323h1v1h-1zM285 323h1v2h-1zM414 324h2v1h-2zM474 324h1v2h-1zM284 325h1v1h-1zM416 325h3v1h-3zM419 326h3v1h-3zM473 326h1v1h-1zM283 326h1v2h-1zM422 327h2v1h-2zM472 327h1v1h-1zM282 328h1v1h-1zM424 328h3v1h-3zM470 328h2v1h-2zM427 329h3v1h-3zM467 329h3v1h-3zM281 329h1v2h-1zM430 330h2v1h-2zM463 330h4v1h-4zM280 331h1v1h-1zM432 331h3v1h-3zM455 331h8v1h-8zM435 332h20v1h-20zM279 332h1v2h-1zM278 334h1v1h-1zM277 335h1v2h-1zM276 337h1v1h-1zM275 338h1v1h-1zM274 339h1v2h-1zM273 341h1v1h-1zM272 342h1v1h-1zM271 343h1v2h-1zM270 345h1v1h-1zM269 346h1v2h-1zM268 348h1v1h-1zM267 349h1v2h-1zM266 351h1v1h-1zM265 352h1v2h-1zM264 354h1v1h-1zM263 355h1v2h-1zM262 357h1v1h-1zM261 358h1v2h-1zM260 360h1v1h-1zM259 361h1v2h-1zM258 363h1v2h-1zM257 365h1v2h-1zM256 367h1v1h-1zM255 368h1v2h-1zM254 370h1v1h-1zM253 371h1v2h-1zM252 373h1v1h-1zM251 374h1v2h-1zM250 376h1v1h-1zM249 377h1v2h-1zM248 379h1v1h-1zM247 380h1v2h-1zM246 382h1v2h-1zM245 384h1v2h-1zM244 386h1v1h-1zM243 387h1v2h-1zM242 389h1v1h-1zM241 390h1v2h-1zM240 392h1v1h-1zM239 393h1v2h-1zM238 395h1v2h-1zM237 397h1v2h-1zM236 399h1v1h-1zM235 400h1v2h-1zM234 402h1v1h-1zM233 403h1v2h-1zM232 405h1v1h-1zM231 406h1v2h-1zM230 408h1v1h-1zM229 409h1v2h-1zM228 411h1v1h-1zM227 412h1v2h-1zM226 414h1v2h-1zM225 416h1v2h-1zM224 418h1v1h-1zM223 419h1v2h-1zM222 421h1v1h-1zM221 422h1v2h-1zM220 424h1v1h-1zM219 425h1v2h-1zM218 427h1v1h-1zM217 428h1v2h-1zM216 430h1v1h-1zM215 431h1v2h-1zM214 433h1v2h-1zM213 435h1v2h-1zM212 437h1v1h-1zM211 438h1v2h-1zM210 440h1v1h-1zM209 441h1v2h-1zM208 443h1v1h-1zM207 444h1v2h-1zM206 446h1v1h-1zM205 447h1v2h-1zM204 449h1v1h-1zM203 450h1v2h-1zM202 452h1v1h-1zM201 453h1v2h-1zM200 455h1v1h-1zM0 456h2v1h-2zM199 456h1v2h-1zM2 457h2v1h-2zM4 458h2v1h-2zM198 458h1v1h-1zM6 459h2v1h-2zM197 459h1v2h-1zM8 460h2v1h-2zM10 461h2v1h-2zM196 461h1v1h-1zM12 462h2v1h-2zM195 462h1v1h-1zM14 463h2v1h-2zM194 463h1v2h-1zM16 464h2v1h-2zM18 465h2v1h-2zM193 465h1v1h-1zM20 466h2v1h-2zM192 466h1v1h-1zM22 467h2v1h-2zM191 467h1v2h-1zM24 468h2v1h-2zM26 469h2v1h-2zM190 469h1v1h-1zM28 470h2v1h-2zM189 470h1v2h-1zM30 471h2v1h-2zM32 472h1v1h-1zM183 472h6v1h-6zM33 473h2v1h-2zM167 473h16v1h-16zM35 474h1v1h-1zM99 474h16v1h-16zM159 474h8v1h-8zM36 475h3v1h-3zM75 475h24v1h-24zM115 475h4v1h-4zM152 475h7v1h-7zM39 476h4v1h-4zM71 476h4v1h-4zM119 476h4v1h-4zM150 476h2v1h-2zM43 477h3v1h-3zM67 477h4v1h-4zM123 477h8v1h-8zM147 477h3v1h-3zM46 478h2v1h-2zM63 478h4v1h-4zM131 478h16v1h-16zM48 479h3v1h-3zM59 479h4v1h-4zM51 480h8v1h-8z" fill="#0000cd"/>
<path d="M595 90h4v1h-4zM592 91h3v1h-3zM599 91h4v1h-4zM590 92h2v1h-2zM603 92h2v1h-2zM588 93h2v1h-2zM605 93h1v1h-1zM587 94h1v1h-1zM606 94h1v1h-1zM607 95h1v1h-1zM586 95h1v2h-1zM608 96h1v1h-1zM585 97h1v1h-1zM609 97h1v1h-1zM584 98h1v1h-1zM610 98h1v2h-1zM583 99h1v2h-1zM611 100h1v1h-1zM582 101h1v1h-1zM612 101h1v2h-1zM581 102h1v2h-1zM613 103h1v2h-1zM580 104h1v1h-1zM704 105h3v1h-3zM579 105h1v2h-1zM614 105h1v2h-1zM702 106h2v1h-2zM707 106h2v1h-2zM700 107h2v1h-2zM709 107h2v1h-2zM578 107h1v2h-1zM615 107h1v2h-1zM698 108h2v1h-2zM711 108h1v1h-1zM616 109h1v1h-1zM695 109h3v1h-3zM712 109h1v1h-1zM577 109h1v2h-1zM692 110h3v1h-3zM713 110h1v1h-1zM617 110h1v2h-1zM690 111h2v1h-2zM714 111h1v1h-1zM576 111h1v2h-1zM688 112h2v1h-2zM715 112h1v1h-1zM618 112h1v2h-1zM687 113h1v1h-1zM716 113h1v1h-1zM575 113h1v2h-1zM685 114h2v1h-2zM717 114h1v1h-1zM619 114h1v2h-1zM684 115h1v1h-1zM718 115h1v1h-1zM574 115h1v2h-1zM620 116h1v1h-1zM682 116h2v1h-2zM719 116h1v1h-1zM680 117h2v1h-2zM720 117h1v1h-1zM573 117h1v2h-1zM621 117h1v2h-1zM721 118h2v1h-2zM679 118h1v2h-1zM723 119h1v1h-1zM572 119h1v2h-1zM622 119h1v2h-1zM678 120h1v1h-1zM724 120h1v1h-1zM725 121h2v1h-2zM571 121h1v2h-1zM623 121h1v2h-1zM677 121h1v2h-1zM727 122h1v1h-1zM624 123h1v1h-1zM676 123h1v1h-1zM728 123h1v1h-1zM570 123h1v2h-1zM625 124h1v1h-1zM729 124h2v1h-2zM675 124h1v2h-1zM731 125h1v1h-1zM569 125h1v2h-1zM626 125h1v2h-1zM674 126h1v1h-1zM732 126h1v1h-1zM627 127h1v1h-1zM733 127h1v1h-1zM673 127h1v2h-1zM568 127h1v3h-1zM628 128h1v1h-1zM734 128h1v2h-1zM672 129h1v1h-1zM629 129h1v2h-1zM735 130h1v1h-1zM567 130h1v2h-1zM671 130h1v2h-1zM630 131h1v1h-1zM736 131h1v1h-1zM737 132h1v1h-1zM566 132h1v2h-1zM631 132h1v2h-1zM670 132h1v2h-1zM738 133h1v2h-1zM632 134h1v1h-1zM565 134h1v2h-1zM669 134h1v2h-1zM633 135h1v1h-1zM739 135h1v1h-1zM668 136h1v1h-1zM740 136h2v1h-2zM564 136h1v2h-1zM634 136h1v2h-1zM667 137h1v1h-1zM742 137h2v1h-2zM635 138h1v1h-1zM666 138h1v1h-1zM744 138h1v1h-1zM563 138h1v2h-1zM636 139h1v1h-1zM665 139h1v1h-1zM745 139h2v1h-2zM637 140h1v1h-1zM664 140h1v1h-1zM747 140h1v1h-1zM562 140h1v2h-1zM662 141h2v1h-2zM748 141h1v1h-1zM638 141h1v2h-1zM660 142h2v1h-2zM749 142h1v1h-1zM561 142h1v2h-1zM639 143h1v1h-1zM658 143h2v1h-2zM750 143h1v1h-1zM560 144h1v1h-1zM640 144h2v1h-2zM655 144h3v1h-3zM751 144h1v1h-1zM559 145h1v1h-1zM642 145h2v1h-2zM651 145h4v1h-4zM752 145h1v1h-1zM558 146h1v1h-1zM644 146h7v1h-7zM753 146h1v1h-1zM557 147h1v1h-1zM754 147h1v1h-1zM556 148h1v1h-1zM755 148h1v1h-1zM555 149h1v1h-1zM756 149h1v1h-1zM554 150h1v1h-1zM757 150h1v1h-1zM553 151h1v1h-1zM758 151h1v2h-1zM552 152h1v1h-1zM551 153h1v1h-1zM759 153h1v1h-1zM550 154h1v1h-1zM760 154h1v1h-1zM549 155h1v1h-1zM761 155h1v1h-1zM548 156h1v1h-1zM762 156h1v1h-1zM547 157h1v1h-1zM763 157h1v1h-1zM764 158h3v1h-3zM546 158h1v2h-1zM767 159h4v1h-4zM545 160h1v1h-1zM771 160h4v1h-4zM544 161h1v1h-1zM775 161h2v1h-2zM543 162h1v1h-1zM777 162h2v1h-2zM541 163h2v1h-2zM779 163h1v1h-1zM540 164h1v1h-1zM780 164h1v1h-1zM539 165h1v1h-1zM781 165h2v1h-2zM537 166h2v1h-2zM783 166h1v1h-1zM535 167h2v1h-2zM784 167h1v1h-1zM532 168h3v1h-3zM785 168h2v1h-2zM531 169h1v1h-1zM787 169h1v1h-1zM530 170h1v1h-1zM788 170h2v1h-2zM529 171h1v1h-1zM790 171h2v1h-2zM528 172h1v1h-1zM792 172h1v1h-1zM793 173h1v1h-1zM527 173h1v2h-1zM794 174h1v1h-1zM795 175h1v1h-1zM526 175h1v2h-1zM796 176h1v1h-1zM525 177h1v2h-1zM797 177h1v2h-1zM798 179h1v1h-1zM524 179h1v3h-1zM799 180h1v2h-1zM800 182h1v1h-1zM523 182h1v2h-1zM801 183h1v2h-1zM522 184h1v2h-1zM802 185h1v1h-1zM521 186h1v2h-1zM803 186h1v2h-1zM804 188h1v1h-1zM520 188h1v3h-1zM805 189h1v2h-1zM899 190h8v1h-8zM806 191h1v1h-1zM896 191h3v1h-3zM907 191h8v1h-8zM519 191h1v2h-1zM894 192h2v1h-2zM915 192h7v1h-7zM807 192h1v2h-1zM892 193h2v1h-2zM922 193h2v1h-2zM518 193h1v2h-1zM808 194h1v1h-1zM891 194h1v1h-1zM924 194h3v1h-3zM809 195h1v1h-1zM927 195h3v1h-3zM517 195h1v2h-1zM890 195h1v2h-1zM930 196h2v1h-2zM810 196h1v2h-1zM889 197h1v1h-1zM932 197h2v1h-2zM516 197h1v2h-1zM811 198h1v1h-1zM888 198h1v1h-1zM934 198h2v1h-2zM812 199h2v1h-2zM886 199h2v1h-2zM936 199h1v1h-1zM515 199h1v2h-1zM814 200h2v1h-2zM883 200h3v1h-3zM937 200h2v1h-2zM816 201h1v1h-1zM875 201h8v1h-8zM939 201h1v1h-1zM514 201h1v2h-1zM817 202h2v1h-2zM868 202h7v1h-7zM940 202h1v1h-1zM819 203h1v1h-1zM866 203h2v1h-2zM941 203h2v1h-2zM513 203h1v2h-1zM820 204h2v1h-2zM864 204h2v1h-2zM943 204h1v1h-1zM1268 204h1v2h-1zM822 205h2v1h-2zM863 205h1v1h-1zM944 205h1v1h-1zM512 205h1v2h-1zM824 206h1v1h-1zM861 206h2v1h-2zM945 206h1v1h-1zM1267 206h1v2h-1zM825 207h2v1h-2zM860 207h1v1h-1zM946 207h1v1h-1zM511 207h1v2h-1zM827 208h1v1h-1zM859 208h1v1h-1zM947 208h1v1h-1zM1266 208h1v3h-1zM828 209h2v1h-2zM858 209h1v1h-1zM948 209h1v1h-1zM510 209h1v2h-1zM830 210h2v1h-2zM857 210h1v1h-1zM949 210h2v1h-2zM832 211h1v1h-1zM856 211h1v1h-1zM951 211h1v1h-1zM509 211h1v2h-1zM1265 211h1v2h-1zM833 212h2v1h-2zM854 212h2v1h-2zM952 212h1v1h-1zM835 213h1v1h-1zM852 213h2v1h-2zM953 213h2v1h-2zM508 213h1v3h-1zM1264 213h1v3h-1zM836 214h2v1h-2zM850 214h2v1h-2zM955 214h1v1h-1zM1195 214h3v1h-3zM838 215h2v1h-2zM847 215h3v1h-3zM956 215h2v1h-2zM1191 215h4v1h-4zM1198 215h2v1h-2zM840 216h7v1h-7zM958 216h2v1h-2zM1188 216h3v1h-3zM1200 216h1v1h-1zM507 216h1v3h-1zM1263 216h1v4h-1zM960 217h2v1h-2zM1186 217h2v1h-2zM1201 217h2v1h-2zM962 218h2v1h-2zM1184 218h2v1h-2zM1203 218h1v1h-1zM964 219h2v1h-2zM1183 219h1v1h-1zM1204 219h1v1h-1zM506 219h1v2h-1zM966 220h2v1h-2zM1181 220h2v1h-2zM1205 220h1v1h-1zM1262 220h1v4h-1zM968 221h2v1h-2zM1176 221h5v1h-5zM1206 221h1v1h-1zM505 221h1v3h-1zM970 222h2v1h-2zM1175 222h1v1h-1zM1207 222h1v1h-1zM972 223h3v1h-3zM1173 223h2v1h-2zM1208 223h1v1h-1zM975 224h4v1h-4zM1172 224h1v1h-1zM1209 224h1v1h-1zM504 224h1v3h-1zM1261 224h1v4h-1zM979 225h4v1h-4zM1171 225h1v1h-1zM1210 225h1v2h-1zM983 226h2v1h-2zM1170 226h1v1h-1zM985 227h1v1h-1zM1169 227h1v1h-1zM1211 227h1v1h-1zM503 227h1v3h-1zM986 228h1v1h-1zM1168 228h1v1h-1zM1212 228h1v1h-1zM1260 228h1v3h-1zM987 229h1v1h-1zM1167 229h1v1h-1zM1213 229h1v1h-1zM988 230h2v1h-2zM1165 230h2v1h-2zM1214 230h1v2h-1zM502 230h1v4h-1zM990 231h2v1h-2zM1164 231h1v1h-1zM1259 231h1v3h-1zM992 232h2v1h-2zM1143 232h4v1h-4zM1162 232h2v1h-2zM1215 232h1v1h-1zM994 233h2v1h-2zM1139 233h4v1h-4zM1147 233h4v1h-4zM1159 233h3v1h-3zM1216 233h1v1h-1zM996 234h2v1h-2zM1131 234h8v1h-8zM1151 234h8v1h-8zM1217 234h1v2h-1zM501 234h1v3h-1zM1258 234h1v3h-1zM998 235h2v1h-2zM1128 235h3v1h-3zM1000 236h2v1h-2zM1127 236h1v1h-1zM1218 236h1v1h-1zM1002 237h2v1h-2zM1126 237h1v2h-1zM1219 237h1v2h-1zM500 237h1v3h-1zM1257 237h1v3h-1zM1004 238h2v1h-2zM1006 239h2v1h-2zM1125 239h1v1h-1zM1220 239h1v1h-1zM1008 240h1v1h-1zM1124 240h1v1h-1zM1221 240h1v2h-1zM1256 240h1v2h-1zM499 240h1v3h-1zM1009 241h2v1h-2zM1123 241h1v2h-1zM1011 242h1v1h-1zM1222 242h1v1h-1zM1255 242h1v2h-1zM1012 243h1v1h-1zM1122 243h1v1h-1zM1223 243h1v2h-1zM498 243h1v4h-1zM1013 244h1v1h-1zM1121 244h1v2h-1zM1254 244h1v2h-1zM1014 245h1v1h-1zM1224 245h1v1h-1zM1015 246h1v1h-1zM1120 246h1v1h-1zM1225 246h1v1h-1zM1253 246h1v2h-1zM1016 247h1v1h-1zM1119 247h1v1h-1zM1226 247h1v2h-1zM497 247h1v3h-1zM1017 248h1v1h-1zM1252 248h1v1h-1zM1118 248h1v2h-1zM1227 249h1v1h-1zM1251 249h1v1h-1zM1018 249h1v2h-1zM1117 250h1v1h-1zM1228 250h1v1h-1zM1250 250h1v1h-1zM496 250h1v3h-1zM1019 251h1v1h-1zM1116 251h1v1h-1zM1229 251h2v1h-2zM1249 251h1v1h-1zM1020 252h1v1h-1zM1115 252h1v1h-1zM1231 252h1v1h-1zM1247 252h2v1h-2zM1232 253h3v1h-3zM1243 253h4v1h-4zM1021 253h1v2h-1zM1114 253h1v2h-1zM495 253h1v3h-1zM1235 254h8v1h-8zM1022 255h1v1h-1zM1113 255h1v1h-1zM1112 256h1v1h-1zM1023 256h1v2h-1zM494 256h1v3h-1zM1111 257h1v1h-1zM1024 258h1v1h-1zM1110 258h1v2h-1zM1025 259h1v1h-1zM493 259h1v3h-1zM1109 260h1v1h-1zM1026 260h1v2h-1zM1108 261h1v1h-1zM1027 262h1v1h-1zM1107 262h1v2h-1zM492 262h1v3h-1zM1028 263h1v1h-1zM1029 264h1v2h-1zM1106 264h1v2h-1zM491 265h1v3h-1zM1030 266h1v2h-1zM1105 266h1v2h-1zM1031 268h1v2h-1zM1104 268h1v3h-1zM490 268h1v4h-1zM1032 270h1v1h-1zM1033 271h1v2h-1zM1103 271h1v3h-1zM489 272h1v3h-1zM1034 273h1v2h-1zM1102 274h1v2h-1zM1035 275h1v2h-1zM488 275h1v3h-1zM1101 276h1v3h-1zM1036 277h1v1h-1zM1037 278h1v2h-1zM487 278h1v3h-1zM1100 279h1v2h-1zM1038 280h1v1h-1zM1039 281h1v2h-1zM1099 281h1v2h-1zM486 281h1v4h-1zM1040 283h1v1h-1zM1098 283h1v2h-1zM303 284h4v1h-4zM1041 284h1v2h-1zM299 285h4v1h-4zM307 285h8v1h-8zM1097 285h1v2h-1zM485 285h1v3h-1zM295 286h4v1h-4zM315 286h3v1h-3zM1042 286h1v1h-1zM263 287h4v1h-4zM291 287h4v1h-4zM318 287h2v1h-2zM1043 287h1v2h-1zM1096 287h1v2h-1zM260 288h3v1h-3zM267 288h8v1h-8zM288 288h3v1h-3zM320 288h1v1h-1zM484 288h1v3h-1zM258 289h2v1h-2zM275 289h4v1h-4zM286 289h2v1h-2zM321 289h1v1h-1zM1044 289h1v1h-1zM1095 289h1v2h-1zM255 290h3v1h-3zM279 290h7v1h-7zM322 290h1v1h-1zM1045 290h1v2h-1zM252 291h3v1h-3zM323 291h1v1h-1zM1094 291h1v2h-1zM483 291h1v3h-1zM250 292h2v1h-2zM324 292h1v1h-1zM1046 292h1v1h-1zM248 293h2v1h-2zM325 293h1v1h-1zM1047 293h1v2h-1zM1093 293h1v2h-1zM247 294h1v1h-1zM326 294h1v1h-1zM482 294h1v4h-1zM327 295h1v1h-1zM1048 295h1v1h-1zM1092 295h1v1h-1zM246 295h1v2h-1zM328 296h1v1h-1zM1049 296h1v1h-1zM1091 296h1v2h-1zM245 297h1v1h-1zM329 297h1v1h-1zM1050 297h1v2h-1zM244 298h1v1h-1zM330 298h1v1h-1zM1090 298h1v1h-1zM481 298h1v3h-1zM331 299h1v1h-1zM1051 299h1v1h-1zM243 299h1v2h-1zM1089 299h1v2h-1zM332 300h1v1h-1zM1052 300h1v1h-1zM333 301h2v1h-2zM1088 301h1v1h-1zM242 301h1v2h-1zM1053 301h1v2h-1zM480 301h1v3h-1zM335 302h1v1h-1zM1087 302h1v1h-1zM336 303h1v1h-1zM1054 303h1v1h-1zM241 303h1v2h-1zM1086 303h1v2h-1zM337 304h1v1h-1zM1055 304h1v2h-1zM479 304h1v3h-1zM338 305h1v1h-1zM1085 305h1v1h-1zM240 305h1v3h-1zM339 306h1v1h-1zM1056 306h2v1h-2zM1084 306h1v1h-1zM340 307h1v1h-1zM1058 307h2v1h-2zM1083 307h1v1h-1zM478 307h1v3h-1zM341 308h1v1h-1zM1060 308h1v1h-1zM239 308h1v2h-1zM1082 308h1v2h-1zM342 309h1v1h-1zM1061 309h1v1h-1zM343 310h1v1h-1zM1062 310h1v1h-1zM1081 310h1v1h-1zM238 310h1v3h-1zM477 310h1v3h-1zM344 311h1v1h-1zM1063 311h1v1h-1zM1080 311h1v1h-1zM345 312h1v1h-1zM1064 312h1v1h-1zM1079 312h1v1h-1zM346 313h1v1h-1zM1065 313h2v1h-2zM1078 313h1v1h-1zM237 313h1v2h-1zM476 313h1v2h-1zM347 314h1v1h-1zM1067 314h1v1h-1zM1077 314h1v1h-1zM348 315h1v1h-1zM1068 315h9v1h-9zM475 315h1v2h-1zM236 315h1v3h-1zM349 316h1v1h-1zM350 317h1v1h-1zM474 317h1v1h-1zM351 318h1v1h-1zM235 318h1v2h-1zM473 318h1v2h-1zM352 319h1v1h-1zM353 320h1v1h-1zM472 320h1v1h-1zM234 320h1v3h-1zM354 321h1v1h-1zM471 321h1v2h-1zM355 322h1v1h-1zM356 323h1v1h-1zM470 323h1v1h-1zM233 323h1v2h-1zM357 324h2v1h-2zM469 324h1v2h-1zM359 325h1v1h-1zM232 325h1v3h-1zM360 326h1v1h-1zM468 326h1v1h-1zM361 327h2v1h-2zM466 327h2v1h-2zM363 328h1v1h-1zM464 328h2v1h-2zM231 328h1v3h-1zM364 329h1v1h-1zM415 329h20v1h-20zM462 329h2v1h-2zM365 330h2v1h-2zM403 330h12v1h-12zM435 330h12v1h-12zM455 330h7v1h-7zM367 331h1v1h-1zM387 331h16v1h-16zM447 331h8v1h-8zM230 331h1v4h-1zM368 332h2v1h-2zM383 332h4v1h-4zM370 333h2v1h-2zM379 333h4v1h-4zM372 334h7v1h-7zM229 335h1v3h-1zM228 338h1v3h-1zM227 341h1v3h-1zM226 344h1v4h-1zM225 348h1v3h-1zM224 351h1v3h-1zM223 354h1v3h-1zM222 357h1v3h-1zM221 360h1v3h-1zM220 363h1v3h-1zM219 366h1v3h-1zM218 369h1v3h-1zM217 372h1v3h-1zM216 375h1v3h-1zM215 378h1v3h-1zM214 381h1v4h-1zM213 385h1v3h-1zM212 388h1v3h-1zM211 391h1v3h-1zM210 394h1v3h-1zM209 397h1v3h-1zM208 400h1v3h-1zM207 403h1v3h-1zM206 406h1v3h-1zM205 409h1v3h-1zM204 412h1v3h-1zM203 415h1v3h-1zM202 418h1v4h-1zM201 422h1v3h-1zM200 425h1v3h-1zM199 428h1v3h-1zM198 431h1v3h-1zM197 434h1v3h-1zM196 437h1v3h-1zM195 440h1v3h-1zM194 443h1v3h-1zM193 446h1v3h-1zM192 449h1v3h-1zM191 452h1v3h-1zM190 455h1v2h-1zM189 457h1v3h-1zM188 460h1v2h-1zM187 462h1v1h-1zM185 463h2v1h-2zM184 464h1v1h-1zM183 465h1v1h-1zM181 466h2v1h-2zM180 467h1v1h-1zM179 468h1v1h-1zM177 469h2v1h-2zM175 470h2v1h-2zM172 471h3v1h-3zM83 472h28v1h-28zM170 472h2v1h-2zM71 473h12v1h-12zM111 473h3v1h-3zM168 473h2v1h-2zM63 474h8v1h-8zM114 474h2v1h-2zM166 474h2v1h-2zM59 475h4v1h-4zM116 475h3v1h-3zM163 475h3v1h-3zM15 476h32v1h-32zM55 476h4v1h-4zM119 476h3v1h-3zM159 476h4v1h-4zM12 477h3v1h-3zM47 477h8v1h-8zM122 477h2v1h-2zM156 477h3v1h-3zM11 478h1v1h-1zM124 478h2v1h-2zM154 478h2v1h-2zM9 479h2v1h-2zM126 479h2v1h-2zM151 479h3v1h-3zM8 480h1v1h-1zM128 480h2v1h-2zM147 480h4v1h-4zM7 481h1v1h-1zM130 481h2v1h-2zM143 481h4v1h-4zM5 482h2v1h-2zM132 482h11v1h-11zM4 483h1v1h-1zM3 484h1v1h-1zM1 485h2v1h-2zM0 486h1v1h-1z" fill="#ff0000"/>
<path d="M580 75h5v1h-5zM578 76h2v1h-2zM585 76h1v1h-1zM576 77h2v1h-2zM586 77h1v1h-1zM575 78h1v1h-1zM587 78h1v1h-1zM573 79h2v1h-2zM588 79h1v1h-1zM571 80h2v1h-2zM589 80h1v2h-1zM568 81h3v1h-3zM567 82h1v1h-1zM590 82h1v2h-1zM566 83h1v1h-1zM565 84h1v1h-1zM591 84h1v2h-1zM564 85h1v1h-1zM563 86h1v2h-1zM592 86h1v2h-1zM562 88h1v1h-1zM593 88h1v3h-1zM561 89h1v2h-1zM560 91h1v2h-1zM594 91h1v4h-1zM559 93h1v3h-1zM595 95h1v3h-1zM680 96h2v1h-2zM558 96h1v3h-1zM678 97h2v1h-2zM682 97h2v1h-2zM676 98h2v1h-2zM684 98h1v1h-1zM596 98h1v3h-1zM675 99h1v1h-1zM685 99h1v1h-1zM557 99h1v3h-1zM674 100h1v1h-1zM686 100h1v2h-1zM673 101h1v1h-1zM597 101h1v3h-1zM672 102h1v1h-1zM687 102h1v1h-1zM556 102h1v4h-1zM671 103h1v1h-1zM688 103h1v1h-1zM670 104h1v1h-1zM689 104h1v1h-1zM598 104h1v2h-1zM669 105h1v1h-1zM690 105h1v2h-1zM668 106h1v1h-1zM599 106h1v3h-1zM555 106h1v4h-1zM691 107h1v1h-1zM667 107h1v2h-1zM692 108h1v1h-1zM666 109h1v1h-1zM693 109h2v1h-2zM703 109h3v1h-3zM600 109h1v3h-1zM695 110h1v1h-1zM699 110h4v1h-4zM706 110h2v1h-2zM665 110h1v2h-1zM554 110h1v4h-1zM696 111h3v1h-3zM708 111h1v1h-1zM664 112h1v1h-1zM709 112h1v1h-1zM601 112h1v2h-1zM663 113h1v1h-1zM710 113h1v2h-1zM662 114h1v2h-1zM602 114h1v3h-1zM553 114h1v4h-1zM711 115h1v1h-1zM661 116h1v1h-1zM712 116h1v2h-1zM660 117h1v1h-1zM603 117h1v2h-1zM659 118h1v2h-1zM713 118h1v2h-1zM552 118h1v4h-1zM604 119h1v2h-1zM658 120h1v2h-1zM714 120h1v3h-1zM605 121h1v2h-1zM657 122h1v2h-1zM551 122h1v4h-1zM606 123h1v2h-1zM715 123h1v2h-1zM656 124h1v1h-1zM607 125h1v2h-1zM655 125h1v2h-1zM716 125h1v3h-1zM550 126h1v4h-1zM608 127h1v2h-1zM654 127h1v2h-1zM717 128h1v3h-1zM609 129h1v2h-1zM653 129h1v2h-1zM549 130h1v4h-1zM652 131h1v1h-1zM610 131h1v2h-1zM718 131h1v3h-1zM651 132h1v2h-1zM611 133h1v2h-1zM650 134h1v1h-1zM719 134h1v3h-1zM1268 134h1v3h-1zM548 134h1v4h-1zM649 135h1v2h-1zM612 135h1v3h-1zM648 137h1v1h-1zM720 137h1v3h-1zM1267 137h1v5h-1zM647 138h1v2h-1zM613 138h1v3h-1zM547 138h1v4h-1zM646 140h1v1h-1zM721 140h1v3h-1zM614 141h1v2h-1zM645 141h1v2h-1zM546 142h1v3h-1zM1266 142h1v6h-1zM644 143h1v1h-1zM722 143h1v2h-1zM615 143h1v3h-1zM643 144h1v2h-1zM723 145h1v3h-1zM545 145h1v4h-1zM504 146h1v2h-1zM642 146h1v2h-1zM616 146h1v3h-1zM503 147h1v2h-1zM641 148h1v2h-1zM724 148h1v2h-1zM505 148h1v3h-1zM1265 148h1v5h-1zM502 149h1v1h-1zM544 149h1v3h-1zM617 149h1v3h-1zM725 150h2v1h-2zM501 150h1v2h-1zM640 150h1v2h-1zM727 151h1v1h-1zM735 151h7v1h-7zM506 151h1v2h-1zM500 152h1v1h-1zM728 152h7v1h-7zM742 152h2v1h-2zM618 152h1v3h-1zM639 152h1v3h-1zM543 152h1v4h-1zM499 153h1v1h-1zM744 153h1v1h-1zM507 153h1v3h-1zM1264 153h1v5h-1zM497 154h2v1h-2zM745 154h1v1h-1zM746 155h1v1h-1zM638 155h1v2h-1zM496 155h1v3h-1zM619 155h1v3h-1zM747 156h1v1h-1zM508 156h1v2h-1zM542 156h1v4h-1zM748 157h2v1h-2zM637 157h1v3h-1zM509 158h2v1h-2zM750 158h2v1h-2zM620 158h1v3h-1zM495 158h1v4h-1zM1263 158h1v5h-1zM511 159h1v1h-1zM752 159h1v1h-1zM512 160h1v1h-1zM753 160h2v1h-2zM636 160h1v2h-1zM541 160h1v4h-1zM755 161h1v1h-1zM513 161h1v2h-1zM621 161h1v2h-1zM756 162h1v1h-1zM635 162h1v2h-1zM494 162h1v5h-1zM514 163h1v1h-1zM757 163h2v1h-2zM622 163h1v2h-1zM1262 163h1v6h-1zM759 164h1v1h-1zM515 164h1v2h-1zM540 164h1v2h-1zM634 164h1v2h-1zM760 165h2v1h-2zM623 165h1v2h-1zM762 166h2v1h-2zM516 166h1v2h-1zM539 166h1v2h-1zM633 166h1v2h-1zM624 167h1v1h-1zM764 167h1v1h-1zM493 167h1v4h-1zM765 168h2v1h-2zM538 168h1v2h-1zM625 168h1v2h-1zM632 168h1v2h-1zM517 168h1v3h-1zM767 169h1v1h-1zM1261 169h1v5h-1zM626 170h1v1h-1zM631 170h1v1h-1zM768 170h6v1h-6zM537 170h1v2h-1zM630 171h1v1h-1zM774 171h2v1h-2zM518 171h1v2h-1zM627 171h1v2h-1zM492 171h1v5h-1zM629 172h1v1h-1zM776 172h2v1h-2zM536 172h1v2h-1zM628 173h1v1h-1zM778 173h2v1h-2zM519 173h1v3h-1zM535 174h1v1h-1zM780 174h1v1h-1zM1260 174h1v5h-1zM533 175h2v1h-2zM781 175h2v1h-2zM532 176h1v1h-1zM783 176h1v1h-1zM520 176h1v3h-1zM491 176h1v5h-1zM531 177h1v1h-1zM784 177h1v1h-1zM785 178h2v1h-2zM530 178h1v2h-1zM787 179h1v1h-1zM521 179h1v2h-1zM1259 179h1v4h-1zM529 180h1v1h-1zM788 180h1v1h-1zM528 181h1v1h-1zM522 181h1v2h-1zM789 181h1v2h-1zM490 181h1v6h-1zM527 182h1v1h-1zM900 182h6v1h-6zM790 183h1v1h-1zM898 183h2v1h-2zM906 183h2v1h-2zM523 183h1v2h-1zM526 183h1v2h-1zM1258 183h1v4h-1zM896 184h2v1h-2zM908 184h1v1h-1zM791 184h1v2h-1zM525 185h1v1h-1zM895 185h1v1h-1zM909 185h1v1h-1zM524 185h1v2h-1zM894 186h1v1h-1zM792 186h1v2h-1zM910 186h1v2h-1zM893 187h1v1h-1zM1257 187h1v4h-1zM489 187h1v5h-1zM892 188h1v1h-1zM911 188h1v1h-1zM793 188h1v2h-1zM912 189h1v1h-1zM891 189h1v2h-1zM864 190h2v1h-2zM913 190h1v1h-1zM794 190h1v2h-1zM862 191h2v1h-2zM866 191h2v1h-2zM890 191h1v2h-1zM914 191h1v2h-1zM1256 191h1v4h-1zM860 192h2v1h-2zM868 192h1v1h-1zM795 192h1v2h-1zM488 192h1v6h-1zM859 193h1v1h-1zM869 193h2v1h-2zM915 193h1v1h-1zM889 193h1v2h-1zM857 194h2v1h-2zM871 194h1v1h-1zM916 194h1v1h-1zM796 194h1v3h-1zM856 195h1v1h-1zM872 195h1v1h-1zM888 195h1v1h-1zM1180 195h3v1h-3zM917 195h1v2h-1zM1255 195h1v3h-1zM873 196h2v1h-2zM887 196h1v1h-1zM1179 196h1v1h-1zM1183 196h2v1h-2zM855 196h1v2h-1zM875 197h1v1h-1zM886 197h1v1h-1zM918 197h1v1h-1zM1177 197h2v1h-2zM1185 197h1v1h-1zM797 197h1v2h-1zM854 198h1v1h-1zM876 198h1v1h-1zM885 198h1v1h-1zM1176 198h1v1h-1zM919 198h1v2h-1zM1186 198h1v2h-1zM1254 198h1v2h-1zM487 198h1v7h-1zM877 199h2v1h-2zM884 199h1v1h-1zM1175 199h1v1h-1zM853 199h1v2h-1zM798 199h1v3h-1zM879 200h1v1h-1zM882 200h2v1h-2zM920 200h1v1h-1zM1187 200h1v1h-1zM1174 200h1v2h-1zM1253 200h1v3h-1zM852 201h1v1h-1zM880 201h2v1h-2zM921 201h1v1h-1zM1188 201h1v1h-1zM851 202h1v1h-1zM1173 202h1v1h-1zM799 202h1v2h-1zM922 202h1v2h-1zM1189 202h1v2h-1zM1172 203h1v1h-1zM850 203h1v2h-1zM1252 203h1v3h-1zM923 204h1v1h-1zM1190 204h1v1h-1zM1171 204h1v2h-1zM800 204h1v3h-1zM849 205h1v1h-1zM924 205h1v1h-1zM1191 205h1v2h-1zM486 205h1v7h-1zM848 206h1v1h-1zM925 206h2v1h-2zM1170 206h1v2h-1zM1251 206h1v2h-1zM846 207h2v1h-2zM927 207h1v1h-1zM801 207h1v2h-1zM1192 207h1v2h-1zM844 208h2v1h-2zM928 208h1v1h-1zM1169 208h1v2h-1zM1250 208h1v2h-1zM842 209h2v1h-2zM929 209h1v1h-1zM1193 209h1v2h-1zM802 209h1v3h-1zM840 210h2v1h-2zM1168 210h1v1h-1zM930 210h1v2h-1zM1249 210h1v2h-1zM832 211h2v1h-2zM839 211h1v1h-1zM1167 211h1v2h-1zM1194 211h1v3h-1zM830 212h2v1h-2zM834 212h2v1h-2zM837 212h2v1h-2zM931 212h1v1h-1zM803 212h1v2h-1zM1248 212h1v3h-1zM485 212h1v7h-1zM828 213h2v1h-2zM836 213h1v1h-1zM932 213h1v1h-1zM1166 213h1v2h-1zM827 214h1v2h-1zM933 214h1v2h-1zM1195 214h1v2h-1zM804 214h1v3h-1zM1165 215h1v2h-1zM1247 215h1v3h-1zM826 216h1v2h-1zM934 216h1v2h-1zM1196 216h1v3h-1zM805 217h1v2h-1zM1164 217h1v2h-1zM825 218h1v2h-1zM935 218h1v2h-1zM1246 218h1v2h-1zM806 219h1v2h-1zM1163 219h1v2h-1zM1197 219h1v3h-1zM484 219h1v7h-1zM964 220h6v1h-6zM824 220h1v2h-1zM936 220h1v2h-1zM1245 220h1v3h-1zM962 221h2v1h-2zM970 221h2v1h-2zM807 221h1v2h-1zM1162 221h1v2h-1zM960 222h2v1h-2zM972 222h1v1h-1zM823 222h1v2h-1zM937 222h1v2h-1zM1198 222h1v3h-1zM808 223h1v1h-1zM959 223h1v1h-1zM973 223h2v1h-2zM1161 223h1v2h-1zM1244 223h1v3h-1zM957 224h2v1h-2zM975 224h1v1h-1zM1108 224h1v1h-1zM809 224h1v2h-1zM822 224h1v2h-1zM938 224h1v2h-1zM956 225h1v1h-1zM976 225h1v1h-1zM1107 225h1v1h-1zM1109 225h2v1h-2zM1160 225h1v2h-1zM1199 225h1v3h-1zM944 226h7v1h-7zM954 226h2v1h-2zM977 226h2v1h-2zM1106 226h1v1h-1zM1111 226h1v1h-1zM810 226h1v2h-1zM821 226h1v2h-1zM939 226h1v2h-1zM1243 226h1v4h-1zM483 226h1v8h-1zM942 227h2v1h-2zM951 227h3v1h-3zM979 227h1v1h-1zM1105 227h1v1h-1zM1112 227h1v1h-1zM1159 227h1v2h-1zM820 228h1v1h-1zM940 228h2v1h-2zM980 228h1v1h-1zM1104 228h1v1h-1zM1113 228h1v1h-1zM811 228h1v2h-1zM1200 228h1v3h-1zM818 229h2v1h-2zM981 229h1v1h-1zM1158 229h1v1h-1zM1103 229h1v2h-1zM1114 229h1v2h-1zM812 230h6v1h-6zM982 230h1v1h-1zM1157 230h1v2h-1zM1242 230h1v3h-1zM983 231h1v1h-1zM1102 231h1v1h-1zM1115 231h1v1h-1zM1201 231h1v4h-1zM984 232h1v1h-1zM1116 232h3v1h-3zM1156 232h1v1h-1zM1101 232h1v2h-1zM1119 233h12v1h-12zM1155 233h1v1h-1zM985 233h1v2h-1zM1241 233h1v4h-1zM1100 234h1v1h-1zM1131 234h4v1h-4zM1154 234h1v2h-1zM482 234h1v8h-1zM986 235h1v1h-1zM1099 235h1v1h-1zM1135 235h2v1h-2zM1202 235h1v4h-1zM1097 236h2v1h-2zM1137 236h2v1h-2zM1153 236h1v1h-1zM987 236h1v2h-1zM1139 237h1v1h-1zM1152 237h1v1h-1zM1096 237h1v2h-1zM1240 237h1v3h-1zM988 238h1v1h-1zM1140 238h2v1h-2zM1151 238h1v1h-1zM1142 239h2v1h-2zM1149 239h2v1h-2zM989 239h1v2h-1zM1095 239h1v3h-1zM1203 239h1v4h-1zM1144 240h5v1h-5zM1239 240h1v4h-1zM990 241h1v1h-1zM991 242h1v2h-1zM1094 242h1v4h-1zM481 242h1v8h-1zM1204 243h1v3h-1zM992 244h1v1h-1zM1238 244h1v4h-1zM993 245h1v2h-1zM1093 246h1v3h-1zM1205 246h1v4h-1zM994 247h1v1h-1zM995 248h1v2h-1zM1237 248h1v4h-1zM1092 249h1v3h-1zM996 250h1v1h-1zM1206 250h1v4h-1zM480 250h1v8h-1zM997 251h1v2h-1zM1091 252h1v3h-1zM1236 252h1v4h-1zM998 253h1v1h-1zM999 254h1v2h-1zM1207 254h1v4h-1zM1090 255h1v2h-1zM1000 256h1v1h-1zM1235 256h1v4h-1zM1001 257h2v1h-2zM1008 257h2v1h-2zM1089 257h1v3h-1zM1003 258h1v1h-1zM1006 258h2v1h-2zM1010 258h2v1h-2zM1208 258h1v3h-1zM479 258h1v9h-1zM1004 259h2v1h-2zM1012 259h1v1h-1zM1013 260h1v1h-1zM1088 260h1v2h-1zM1234 260h1v5h-1zM1014 261h1v1h-1zM1209 261h1v3h-1zM1015 262h1v1h-1zM1087 262h1v2h-1zM1016 263h1v1h-1zM1017 264h1v1h-1zM1086 264h1v1h-1zM1210 264h1v2h-1zM1018 265h1v2h-1zM1085 265h1v2h-1zM1233 265h1v4h-1zM1211 266h1v3h-1zM1019 267h1v1h-1zM1084 267h1v2h-1zM478 267h1v9h-1zM1020 268h1v2h-1zM1083 269h1v3h-1zM1212 269h1v3h-1zM1232 269h1v3h-1zM1021 270h1v2h-1zM1231 272h1v1h-1zM1022 272h1v2h-1zM1213 272h1v2h-1zM1082 272h1v3h-1zM1230 273h1v2h-1zM1023 274h1v2h-1zM1214 274h1v2h-1zM1229 275h1v1h-1zM1081 275h1v3h-1zM1228 276h1v1h-1zM1215 276h1v2h-1zM1024 276h1v3h-1zM477 276h1v9h-1zM1227 277h1v2h-1zM1216 278h1v2h-1zM1080 278h1v3h-1zM1226 279h1v1h-1zM1025 279h1v3h-1zM224 280h2v1h-2zM1217 280h1v2h-1zM1225 280h1v2h-1zM223 281h1v1h-1zM226 281h2v1h-2zM291 281h8v1h-8zM1079 281h1v3h-1zM221 282h2v1h-2zM228 282h1v1h-1zM288 282h3v1h-3zM299 282h3v1h-3zM1218 282h1v1h-1zM1224 282h1v1h-1zM1026 282h1v2h-1zM220 283h1v1h-1zM229 283h1v1h-1zM286 283h2v1h-2zM302 283h2v1h-2zM1223 283h1v1h-1zM1219 283h1v2h-1zM219 284h1v1h-1zM230 284h1v1h-1zM284 284h2v1h-2zM304 284h3v1h-3zM1221 284h2v1h-2zM1078 284h1v2h-1zM1027 284h1v3h-1zM218 285h1v1h-1zM231 285h1v1h-1zM283 285h1v1h-1zM307 285h8v1h-8zM1220 285h1v1h-1zM476 285h1v7h-1zM217 286h1v1h-1zM232 286h1v1h-1zM281 286h2v1h-2zM315 286h2v1h-2zM1077 286h1v3h-1zM216 287h1v1h-1zM233 287h1v1h-1zM264 287h3v1h-3zM279 287h2v1h-2zM317 287h1v2h-1zM1028 287h1v3h-1zM262 288h2v1h-2zM267 288h12v1h-12zM215 288h1v2h-1zM234 288h1v2h-1zM260 289h2v1h-2zM318 289h1v1h-1zM1076 289h1v3h-1zM214 290h1v1h-1zM235 290h1v1h-1zM259 290h1v1h-1zM319 290h1v2h-1zM1029 290h1v3h-1zM236 291h1v1h-1zM258 291h1v1h-1zM213 291h1v2h-1zM237 292h1v1h-1zM257 292h1v1h-1zM320 292h1v2h-1zM1075 292h1v3h-1zM475 292h1v5h-1zM238 293h1v1h-1zM256 293h1v1h-1zM212 293h1v2h-1zM1030 293h1v2h-1zM239 294h1v1h-1zM255 294h1v1h-1zM321 294h1v3h-1zM240 295h1v1h-1zM253 295h2v1h-2zM1074 295h1v2h-1zM211 295h1v3h-1zM1031 295h1v3h-1zM241 296h2v1h-2zM252 296h1v1h-1zM243 297h1v1h-1zM251 297h1v1h-1zM322 297h1v3h-1zM1073 297h1v3h-1zM474 297h1v4h-1zM244 298h3v1h-3zM249 298h2v1h-2zM210 298h1v2h-1zM1032 298h1v3h-1zM247 299h2v1h-2zM209 300h1v3h-1zM323 300h1v3h-1zM1072 300h1v3h-1zM1033 301h1v2h-1zM473 301h1v5h-1zM1034 303h1v2h-1zM324 303h1v3h-1zM1071 303h1v3h-1zM208 303h1v6h-1zM1035 305h1v2h-1zM325 306h1v4h-1zM472 306h1v4h-1zM1070 306h1v4h-1zM1036 307h1v2h-1zM1037 309h1v2h-1zM207 309h1v8h-1zM326 310h1v3h-1zM471 310h1v3h-1zM1069 310h1v3h-1zM1038 311h1v2h-1zM1039 313h1v2h-1zM470 313h1v3h-1zM1068 313h1v3h-1zM327 313h1v4h-1zM1040 315h1v2h-1zM469 316h1v3h-1zM1067 316h1v4h-1zM1041 317h1v2h-1zM328 317h1v3h-1zM206 317h1v8h-1zM468 319h1v2h-1zM1042 319h1v2h-1zM329 320h1v3h-1zM1066 320h1v4h-1zM467 321h1v1h-1zM1043 321h1v2h-1zM387 322h4v1h-4zM466 322h1v2h-1zM384 323h3v1h-3zM391 323h2v1h-2zM1044 323h1v1h-1zM330 323h1v2h-1zM383 324h1v1h-1zM393 324h1v1h-1zM465 324h1v1h-1zM1045 324h1v2h-1zM1065 324h1v4h-1zM381 325h2v1h-2zM394 325h1v1h-1zM464 325h1v1h-1zM331 325h1v3h-1zM205 325h1v8h-1zM380 326h1v1h-1zM395 326h1v1h-1zM463 326h1v1h-1zM1046 326h1v2h-1zM379 327h1v1h-1zM396 327h2v1h-2zM462 327h1v2h-1zM378 328h1v1h-1zM398 328h2v1h-2zM332 328h1v2h-1zM1047 328h1v2h-1zM1064 328h1v2h-1zM377 329h1v1h-1zM400 329h2v1h-2zM435 329h4v1h-4zM461 329h1v1h-1zM376 330h1v1h-1zM402 330h2v1h-2zM431 330h4v1h-4zM439 330h4v1h-4zM459 330h2v1h-2zM1048 330h1v1h-1zM333 330h1v2h-1zM1063 330h1v2h-1zM375 331h1v1h-1zM404 331h1v1h-1zM427 331h4v1h-4zM443 331h4v1h-4zM456 331h3v1h-3zM1049 331h1v1h-1zM405 332h2v1h-2zM423 332h4v1h-4zM447 332h4v1h-4zM454 332h2v1h-2zM1050 332h1v1h-1zM1062 332h1v1h-1zM334 332h1v2h-1zM374 332h1v2h-1zM407 333h1v1h-1zM411 333h12v1h-12zM451 333h3v1h-3zM1051 333h1v1h-1zM1061 333h1v2h-1zM204 333h1v8h-1zM373 334h1v1h-1zM408 334h3v1h-3zM1052 334h1v1h-1zM335 334h1v2h-1zM351 335h7v1h-7zM371 335h2v1h-2zM1053 335h2v1h-2zM1060 335h1v1h-1zM336 336h1v1h-1zM348 336h3v1h-3zM358 336h2v1h-2zM367 336h4v1h-4zM1055 336h1v1h-1zM1058 336h2v1h-2zM337 337h1v1h-1zM346 337h2v1h-2zM360 337h7v1h-7zM1056 337h2v1h-2zM344 338h2v1h-2zM338 338h1v2h-1zM343 339h1v1h-1zM339 340h1v1h-1zM341 340h2v1h-2zM340 341h1v1h-1zM203 341h1v8h-1zM202 349h1v7h-1zM201 356h1v8h-1zM200 364h1v7h-1zM199 371h1v7h-1zM198 378h1v6h-1zM197 384h1v7h-1zM196 391h1v7h-1zM195 398h1v7h-1zM194 405h1v6h-1zM193 411h1v7h-1zM192 418h1v8h-1zM191 426h1v9h-1zM190 435h1v10h-1zM189 445h1v9h-1zM188 454h1v5h-1zM168 455h1v1h-1zM166 456h2v1h-2zM169 456h2v1h-2zM164 457h2v1h-2zM171 457h1v1h-1zM179 457h8v1h-8zM163 458h1v1h-1zM172 458h7v1h-7zM187 458h1v1h-1zM161 459h2v1h-2zM160 460h1v1h-1zM159 461h1v1h-1zM157 462h2v1h-2zM0 463h1v1h-1zM156 463h1v1h-1zM1 464h1v1h-1zM155 464h1v2h-1zM2 465h1v1h-1zM3 466h1v1h-1zM60 466h15v1h-15zM154 466h1v2h-1zM4 467h1v1h-1zM59 467h1v1h-1zM75 467h2v1h-2zM5 468h1v1h-1zM57 468h2v1h-2zM77 468h1v2h-1zM153 468h1v2h-1zM6 469h1v1h-1zM56 469h1v1h-1zM7 470h1v1h-1zM55 470h1v1h-1zM78 470h1v1h-1zM152 470h1v1h-1zM8 471h1v1h-1zM54 471h1v2h-1zM79 471h1v2h-1zM151 471h1v2h-1zM9 472h2v1h-2zM11 473h1v1h-1zM53 473h1v1h-1zM80 473h3v1h-3zM150 473h1v2h-1zM12 474h2v1h-2zM52 474h1v1h-1zM83 474h3v1h-3zM14 475h2v1h-2zM51 475h1v1h-1zM86 475h2v1h-2zM108 475h3v1h-3zM149 475h1v2h-1zM16 476h3v1h-3zM50 476h1v1h-1zM88 476h2v1h-2zM106 476h2v1h-2zM111 476h3v1h-3zM19 477h3v1h-3zM49 477h1v1h-1zM90 477h2v1h-2zM104 477h2v1h-2zM114 477h2v1h-2zM148 477h1v2h-1zM22 478h2v1h-2zM47 478h2v1h-2zM92 478h3v1h-3zM102 478h2v1h-2zM116 478h2v1h-2zM24 479h3v1h-3zM44 479h3v1h-3zM95 479h7v1h-7zM118 479h2v1h-2zM147 479h1v2h-1zM27 480h4v1h-4zM42 480h2v1h-2zM120 480h1v1h-1zM31 481h3v1h-3zM40 481h2v1h-2zM121 481h1v1h-1zM146 481h1v2h-1zM34 482h2v1h-2zM38 482h2v1h-2zM122 482h1v1h-1zM36 483h2v1h-2zM123 483h1v1h-1zM145 483h1v2h-1zM124 484h1v1h-1zM125 485h1v1h-1zM144 485h1v1h-1zM126 486h1v1h-1zM143 486h1v1h-1zM127 487h1v1h-1zM141 487h2v1h-2zM128 488h3v1h-3zM139 488h2v1h-2zM131 489h8v1h-8z" fill="#ffa500"/>
</g>
<g shape-rendering="crispEdges">
<rect x="4" y="42" width="1592" height="2" fill="#ff0000"/>
<rect x="4" y="133" width="1592" height="2" fill="#ff0000"/>
<rect x="4" y="222" width="1592" height="2" fill="#00ff00"/>
<rect x="4" y="327" width="1592" height="2" fill="#0000ff"/>
<rect x="4" y="435" width="1592" height="2" fill="#0000ff"/>
</g>
<g shape-rendering="crispEdges">
<line x1="5" y1="561.5" x2="1596" y2="561.5" stroke="#c0c0c0" stroke-width="1" stroke-dasharray="3 3"/>
<rect x="1596" y="561" width="1" height="1" fill="#e8e8e8"/>
<line x1="5" y1="597.5" x2="1596" y2="597.5" stroke="#c0c0c0" stroke-width="1" stroke-dasharray="3 3"/>
<rect x="1596" y="597" width="1" height="1" fill="#e8e8e8"/>
</g>
<g clip-path="url(#cr)">
<g shape-rendering="crispEdges">
<path d="M480 544h1v2h-1zM479 545h1v2h-1zM481 546h1v3h-1zM478 547h1v2h-1zM477 549h1v2h-1zM482 549h1v2h-1zM211 550h3v1h-3zM193 551h1v1h-1zM207 551h4v1h-4zM214 551h2v1h-2zM476 551h1v2h-1zM483 551h1v3h-1zM192 551h1v4h-1zM194 552h2v1h-2zM203 552h4v1h-4zM216 552h2v1h-2zM196 553h7v1h-7zM218 553h2v1h-2zM474 553h2v1h-2zM488 553h1v1h-1zM220 554h6v1h-6zM473 554h1v1h-1zM486 554h2v1h-2zM489 554h1v1h-1zM472 554h1v2h-1zM484 554h1v2h-1zM226 555h2v1h-2zM485 555h1v1h-1zM490 555h1v2h-1zM191 555h1v6h-1zM228 556h1v1h-1zM496 556h3v1h-3zM503 556h1v1h-1zM504 556h1v3h-1zM471 556h1v4h-1zM229 557h1v1h-1zM491 557h1v1h-1zM494 557h2v1h-2zM499 557h4v1h-4zM552 557h2v1h-2zM230 558h1v1h-1zM492 558h2v1h-2zM551 558h1v1h-1zM554 558h2v1h-2zM559 558h2v1h-2zM231 559h1v1h-1zM248 559h1v1h-1zM550 559h1v1h-1zM556 559h3v1h-3zM576 559h2v1h-2zM1260 559h1v1h-1zM561 559h1v2h-1zM505 559h1v4h-1zM232 560h3v1h-3zM247 560h1v1h-1zM249 560h2v1h-2zM549 560h1v1h-1zM575 560h1v1h-1zM578 560h2v1h-2zM1261 560h2v1h-2zM1259 560h1v2h-1zM470 560h1v3h-1zM235 561h3v1h-3zM245 561h2v1h-2zM251 561h1v1h-1zM255 561h6v1h-6zM280 561h7v1h-7zM544 561h5v1h-5zM562 561h1v1h-1zM573 561h2v1h-2zM1263 561h1v1h-1zM580 561h1v2h-1zM190 561h1v6h-1zM238 562h2v1h-2zM243 562h2v1h-2zM252 562h3v1h-3zM261 562h2v1h-2zM279 562h1v1h-1zM287 562h1v1h-1zM543 562h1v1h-1zM568 562h5v1h-5zM1258 562h1v1h-1zM1264 562h5v1h-5zM288 562h1v2h-1zM563 562h1v2h-1zM240 563h3v1h-3zM263 563h1v1h-1zM271 563h3v1h-3zM278 563h1v1h-1zM542 563h1v1h-1zM566 563h2v1h-2zM581 563h1v2h-1zM1104 563h1v2h-1zM1257 563h1v2h-1zM469 563h1v4h-1zM506 563h1v5h-1zM264 564h7v1h-7zM274 564h2v1h-2zM277 564h1v1h-1zM541 564h1v1h-1zM564 564h2v1h-2zM1103 564h1v1h-1zM289 564h1v2h-1zM276 565h1v1h-1zM540 565h1v1h-1zM1102 565h1v1h-1zM1164 565h3v1h-3zM1256 565h1v1h-1zM582 565h1v2h-1zM1105 565h1v2h-1zM539 566h1v1h-1zM1092 566h7v1h-7zM1101 566h1v1h-1zM1167 566h6v1h-6zM290 566h1v2h-1zM1080 566h1v2h-1zM1163 566h1v2h-1zM1255 566h1v2h-1zM303 567h7v1h-7zM531 567h3v1h-3zM538 567h1v1h-1zM1081 567h2v1h-2zM1099 567h2v1h-2zM1173 567h2v1h-2zM468 567h1v2h-1zM583 567h1v2h-1zM892 567h1v2h-1zM1091 567h1v2h-1zM1106 567h1v2h-1zM1236 567h1v2h-1zM189 567h1v6h-1zM152 568h1v1h-1zM299 568h4v1h-4zM310 568h2v1h-2zM528 568h3v1h-3zM534 568h2v1h-2zM537 568h1v1h-1zM1083 568h1v1h-1zM1162 568h1v1h-1zM1175 568h1v1h-1zM1237 568h2v1h-2zM1254 568h1v1h-1zM291 568h1v2h-1zM1079 568h1v3h-1zM507 568h1v4h-1zM295 569h4v1h-4zM527 569h1v1h-1zM536 569h1v1h-1zM584 569h2v1h-2zM668 569h3v1h-3zM675 569h6v1h-6zM1084 569h1v1h-1zM1090 569h1v1h-1zM1123 569h2v1h-2zM1176 569h1v1h-1zM1239 569h1v1h-1zM1243 569h1v1h-1zM151 569h1v2h-1zM153 569h1v2h-1zM312 569h1v2h-1zM467 569h1v2h-1zM891 569h1v2h-1zM893 569h1v2h-1zM1107 569h1v2h-1zM1161 569h1v2h-1zM1244 569h1v2h-1zM1253 569h1v2h-1zM1235 569h1v4h-1zM292 570h3v1h-3zM512 570h11v1h-11zM525 570h2v1h-2zM586 570h2v1h-2zM666 570h2v1h-2zM671 570h4v1h-4zM700 570h1v1h-1zM1085 570h2v1h-2zM1120 570h3v1h-3zM1177 570h2v1h-2zM1184 570h1v1h-1zM1240 570h3v1h-3zM681 570h1v2h-1zM1089 570h1v2h-1zM1125 570h1v2h-1zM150 571h1v1h-1zM511 571h1v1h-1zM523 571h2v1h-2zM588 571h1v1h-1zM664 571h2v1h-2zM699 571h1v1h-1zM701 571h1v1h-1zM1087 571h1v1h-1zM1119 571h1v1h-1zM1160 571h1v1h-1zM1179 571h1v1h-1zM1182 571h2v1h-2zM1252 571h1v1h-1zM154 571h1v2h-1zM466 571h1v2h-1zM890 571h1v2h-1zM894 571h1v2h-1zM1108 571h1v2h-1zM1185 571h1v2h-1zM1245 571h1v2h-1zM313 571h1v3h-1zM1078 571h1v4h-1zM510 572h1v1h-1zM656 572h3v1h-3zM662 572h2v1h-2zM682 572h1v1h-1zM702 572h1v1h-1zM1088 572h1v1h-1zM1126 572h1v1h-1zM1158 572h2v1h-2zM1180 572h2v1h-2zM149 572h1v2h-1zM589 572h1v2h-1zM698 572h1v2h-1zM1118 572h1v2h-1zM1251 572h1v2h-1zM508 572h1v3h-1zM163 573h6v1h-6zM176 573h2v1h-2zM509 573h1v1h-1zM655 573h1v1h-1zM659 573h3v1h-3zM703 573h1v1h-1zM1109 573h1v1h-1zM1156 573h2v1h-2zM155 573h1v2h-1zM465 573h1v2h-1zM683 573h1v2h-1zM889 573h1v2h-1zM895 573h1v2h-1zM1127 573h1v2h-1zM1186 573h1v2h-1zM1246 573h1v2h-1zM188 573h1v4h-1zM1234 573h1v4h-1zM56 574h5v1h-5zM147 574h2v1h-2zM159 574h4v1h-4zM178 574h2v1h-2zM456 574h3v1h-3zM590 574h1v1h-1zM653 574h2v1h-2zM697 574h1v1h-1zM1110 574h1v1h-1zM1117 574h1v1h-1zM1144 574h5v1h-5zM1155 574h1v1h-1zM1250 574h1v1h-1zM169 574h1v2h-1zM175 574h1v2h-1zM314 574h1v2h-1zM704 574h1v2h-1zM144 575h3v1h-3zM156 575h3v1h-3zM180 575h3v1h-3zM459 575h4v1h-4zM644 575h9v1h-9zM684 575h1v1h-1zM696 575h1v1h-1zM1111 575h1v1h-1zM1115 575h2v1h-2zM1128 575h1v1h-1zM1142 575h2v1h-2zM1149 575h2v1h-2zM1154 575h1v1h-1zM55 575h1v2h-1zM61 575h1v2h-1zM455 575h1v2h-1zM464 575h1v2h-1zM591 575h1v2h-1zM888 575h1v2h-1zM896 575h1v2h-1zM1187 575h1v2h-1zM1247 575h1v2h-1zM1249 575h1v2h-1zM1077 575h1v3h-1zM143 576h1v1h-1zM170 576h1v1h-1zM174 576h1v1h-1zM183 576h5v1h-5zM377 576h2v1h-2zM463 576h1v1h-1zM600 576h2v1h-2zM643 576h1v1h-1zM685 576h1v1h-1zM856 576h3v1h-3zM897 576h1v1h-1zM1112 576h3v1h-3zM1129 576h1v1h-1zM1140 576h2v1h-2zM1151 576h1v1h-1zM1153 576h1v1h-1zM108 576h1v2h-1zM376 576h1v2h-1zM695 576h1v2h-1zM705 576h1v2h-1zM315 576h1v3h-1zM54 577h1v1h-1zM76 577h1v1h-1zM107 577h1v1h-1zM379 577h3v1h-3zM454 577h1v1h-1zM592 577h2v1h-2zM599 577h1v1h-1zM602 577h2v1h-2zM855 577h1v1h-1zM859 577h2v1h-2zM887 577h1v1h-1zM898 577h2v1h-2zM1068 577h2v1h-2zM1130 577h1v1h-1zM1138 577h2v1h-2zM1152 577h1v1h-1zM1188 577h1v1h-1zM1248 577h1v1h-1zM62 577h1v2h-1zM142 577h1v2h-1zM171 577h1v2h-1zM173 577h1v2h-1zM642 577h1v2h-1zM686 577h1v2h-1zM1233 577h1v4h-1zM43 578h2v1h-2zM75 578h1v1h-1zM106 578h1v1h-1zM382 578h2v1h-2zM387 578h2v1h-2zM594 578h2v1h-2zM597 578h2v1h-2zM604 578h5v1h-5zM636 578h2v1h-2zM694 578h1v1h-1zM848 578h2v1h-2zM854 578h1v1h-1zM861 578h1v1h-1zM886 578h1v1h-1zM900 578h1v1h-1zM1070 578h2v1h-2zM1131 578h1v1h-1zM1135 578h3v1h-3zM1189 578h1v1h-1zM53 578h1v2h-1zM77 578h1v2h-1zM109 578h1v2h-1zM375 578h1v2h-1zM453 578h1v2h-1zM706 578h1v2h-1zM1067 578h1v2h-1zM1076 578h1v2h-1zM40 579h3v1h-3zM45 579h1v1h-1zM105 579h1v1h-1zM141 579h1v1h-1zM172 579h1v1h-1zM384 579h3v1h-3zM435 579h2v1h-2zM448 579h3v1h-3zM596 579h1v1h-1zM635 579h1v1h-1zM638 579h2v1h-2zM641 579h1v1h-1zM687 579h1v1h-1zM847 579h1v1h-1zM850 579h2v1h-2zM853 579h1v1h-1zM862 579h1v1h-1zM885 579h1v1h-1zM901 579h2v1h-2zM1072 579h4v1h-4zM1132 579h3v1h-3zM63 579h1v2h-1zM74 579h1v2h-1zM316 579h1v2h-1zM389 579h1v2h-1zM609 579h1v2h-1zM693 579h1v2h-1zM1190 579h1v2h-1zM46 580h1v1h-1zM52 580h1v1h-1zM67 580h3v1h-3zM78 580h1v1h-1zM103 580h2v1h-2zM140 580h1v1h-1zM317 580h1v1h-1zM420 580h15v1h-15zM451 580h2v1h-2zM628 580h3v1h-3zM633 580h2v1h-2zM640 580h1v1h-1zM688 580h3v1h-3zM845 580h2v1h-2zM852 580h1v1h-1zM863 580h1v1h-1zM876 580h9v1h-9zM903 580h1v1h-1zM912 580h2v1h-2zM39 580h1v2h-1zM110 580h1v2h-1zM374 580h1v2h-1zM437 580h1v2h-1zM447 580h1v2h-1zM707 580h1v2h-1zM920 580h1v2h-1zM1066 580h1v2h-1zM47 581h1v1h-1zM50 581h2v1h-2zM64 581h3v1h-3zM70 581h2v1h-2zM73 581h1v1h-1zM96 581h7v1h-7zM139 581h1v1h-1zM318 581h2v1h-2zM367 581h2v1h-2zM400 581h3v1h-3zM419 581h1v1h-1zM627 581h1v1h-1zM631 581h2v1h-2zM691 581h2v1h-2zM843 581h2v1h-2zM864 581h1v1h-1zM875 581h1v1h-1zM904 581h1v1h-1zM911 581h1v1h-1zM914 581h2v1h-2zM918 581h2v1h-2zM1191 581h1v1h-1zM79 581h1v2h-1zM390 581h1v2h-1zM610 581h1v2h-1zM1232 581h1v3h-1zM12 582h1v1h-1zM24 582h2v1h-2zM48 582h2v1h-2zM72 582h1v1h-1zM95 582h1v1h-1zM133 582h2v1h-2zM137 582h2v1h-2zM365 582h2v1h-2zM369 582h1v1h-1zM399 582h1v1h-1zM403 582h3v1h-3zM412 582h2v1h-2zM418 582h1v1h-1zM438 582h1v1h-1zM626 582h1v1h-1zM728 582h1v1h-1zM840 582h3v1h-3zM865 582h2v1h-2zM874 582h1v1h-1zM905 582h2v1h-2zM910 582h1v1h-1zM916 582h2v1h-2zM960 582h3v1h-3zM1192 582h3v1h-3zM1228 582h3v1h-3zM38 582h1v2h-1zM111 582h1v2h-1zM124 582h1v2h-1zM132 582h1v2h-1zM320 582h1v2h-1zM364 582h1v2h-1zM373 582h1v2h-1zM446 582h1v2h-1zM708 582h1v2h-1zM1065 582h1v2h-1zM921 582h1v3h-1zM11 583h1v1h-1zM13 583h2v1h-2zM23 583h1v1h-1zM26 583h2v1h-2zM80 583h10v1h-10zM94 583h1v1h-1zM123 583h1v1h-1zM135 583h2v1h-2zM370 583h1v1h-1zM398 583h1v1h-1zM406 583h2v1h-2zM410 583h2v1h-2zM414 583h2v1h-2zM417 583h1v1h-1zM625 583h1v1h-1zM727 583h1v1h-1zM729 583h2v1h-2zM867 583h1v1h-1zM873 583h1v1h-1zM907 583h1v1h-1zM909 583h1v1h-1zM929 583h1v1h-1zM959 583h1v1h-1zM963 583h4v1h-4zM1195 583h2v1h-2zM1227 583h1v1h-1zM1231 583h1v1h-1zM391 583h1v2h-1zM439 583h1v2h-1zM611 583h1v2h-1zM839 583h1v2h-1zM928 583h1v2h-1zM15 584h1v1h-1zM21 584h2v1h-2zM28 584h1v1h-1zM90 584h2v1h-2zM93 584h1v1h-1zM112 584h3v1h-3zM122 584h1v1h-1zM371 584h1v1h-1zM397 584h1v1h-1zM408 584h2v1h-2zM416 584h1v1h-1zM624 584h1v1h-1zM709 584h1v1h-1zM725 584h2v1h-2zM731 584h1v1h-1zM824 584h5v1h-5zM868 584h5v1h-5zM908 584h1v1h-1zM930 584h2v1h-2zM947 584h4v1h-4zM957 584h2v1h-2zM967 584h2v1h-2zM1197 584h1v1h-1zM1226 584h1v1h-1zM10 584h1v2h-1zM37 584h1v2h-1zM125 584h1v2h-1zM131 584h1v2h-1zM363 584h1v2h-1zM372 584h1v2h-1zM445 584h1v2h-1zM1064 584h1v2h-1zM321 584h1v3h-1zM16 585h5v1h-5zM29 585h1v1h-1zM92 585h1v1h-1zM115 585h4v1h-4zM121 585h1v1h-1zM343 585h4v1h-4zM392 585h5v1h-5zM440 585h3v1h-3zM612 585h1v1h-1zM623 585h1v1h-1zM710 585h1v1h-1zM724 585h1v1h-1zM732 585h3v1h-3zM823 585h1v1h-1zM932 585h1v1h-1zM944 585h3v1h-3zM951 585h6v1h-6zM969 585h1v1h-1zM1225 585h1v1h-1zM829 585h1v2h-1zM838 585h1v2h-1zM927 585h1v2h-1zM1198 585h1v2h-1zM922 585h1v4h-1zM4 586h3v1h-3zM9 586h1v1h-1zM30 586h1v1h-1zM36 586h1v1h-1zM119 586h2v1h-2zM340 586h3v1h-3zM347 586h3v1h-3zM443 586h2v1h-2zM711 586h1v1h-1zM723 586h1v1h-1zM735 586h4v1h-4zM748 586h1v1h-1zM933 586h2v1h-2zM943 586h1v1h-1zM970 586h1v1h-1zM976 586h3v1h-3zM1062 586h2v1h-2zM1224 586h1v1h-1zM126 586h1v2h-1zM130 586h1v2h-1zM362 586h1v2h-1zM613 586h1v2h-1zM622 586h1v2h-1zM822 586h1v2h-1zM7 587h2v1h-2zM31 587h1v1h-1zM34 587h2v1h-2zM338 587h2v1h-2zM350 587h2v1h-2zM712 587h3v1h-3zM722 587h1v1h-1zM739 587h4v1h-4zM746 587h2v1h-2zM749 587h2v1h-2zM756 587h1v1h-1zM768 587h6v1h-6zM830 587h1v1h-1zM935 587h1v1h-1zM941 587h2v1h-2zM971 587h1v1h-1zM974 587h2v1h-2zM979 587h2v1h-2zM1061 587h1v1h-1zM1199 587h1v1h-1zM1223 587h1v1h-1zM837 587h1v2h-1zM926 587h1v3h-1zM1060 587h1v3h-1zM322 587h1v4h-1zM32 588h2v1h-2zM336 588h2v1h-2zM352 588h5v1h-5zM614 588h1v1h-1zM621 588h1v1h-1zM715 588h4v1h-4zM721 588h1v1h-1zM743 588h3v1h-3zM751 588h1v1h-1zM754 588h2v1h-2zM757 588h2v1h-2zM767 588h1v1h-1zM774 588h2v1h-2zM821 588h1v1h-1zM936 588h5v1h-5zM972 588h2v1h-2zM981 588h2v1h-2zM1200 588h1v1h-1zM127 588h1v2h-1zM129 588h1v2h-1zM361 588h1v2h-1zM831 588h1v2h-1zM1222 588h1v2h-1zM335 589h1v1h-1zM357 589h2v1h-2zM620 589h1v1h-1zM719 589h2v1h-2zM752 589h2v1h-2zM759 589h1v1h-1zM766 589h1v1h-1zM776 589h1v1h-1zM816 589h5v1h-5zM983 589h1v1h-1zM1201 589h1v1h-1zM615 589h1v2h-1zM836 589h1v2h-1zM1008 589h1v2h-1zM923 589h1v3h-1zM328 590h3v1h-3zM333 590h2v1h-2zM359 590h1v1h-1zM618 590h2v1h-2zM760 590h3v1h-3zM765 590h1v1h-1zM777 590h2v1h-2zM832 590h4v1h-4zM984 590h1v1h-1zM1007 590h1v1h-1zM1212 590h3v1h-3zM1221 590h1v1h-1zM128 590h1v2h-1zM360 590h1v2h-1zM815 590h1v2h-1zM925 590h1v2h-1zM1202 590h1v2h-1zM1059 590h1v4h-1zM327 591h1v1h-1zM331 591h2v1h-2zM616 591h2v1h-2zM763 591h2v1h-2zM779 591h1v1h-1zM985 591h1v1h-1zM1006 591h1v1h-1zM1215 591h6v1h-6zM1009 591h1v2h-1zM1211 591h1v2h-1zM323 591h1v3h-1zM780 592h2v1h-2zM788 592h1v1h-1zM986 592h1v1h-1zM1005 592h1v1h-1zM1203 592h1v1h-1zM326 592h1v2h-1zM814 592h1v2h-1zM924 592h1v2h-1zM782 593h2v1h-2zM786 593h2v1h-2zM789 593h2v1h-2zM987 593h1v1h-1zM1000 593h5v1h-5zM1204 593h1v1h-1zM1210 593h1v1h-1zM1010 593h1v2h-1zM325 594h1v1h-1zM784 594h2v1h-2zM791 594h1v1h-1zM988 594h2v1h-2zM998 594h2v1h-2zM1205 594h2v1h-2zM324 594h1v2h-1zM813 594h1v2h-1zM1209 594h1v2h-1zM1058 594h1v5h-1zM792 595h1v1h-1zM990 595h2v1h-2zM995 595h3v1h-3zM1207 595h1v1h-1zM1011 595h1v2h-1zM793 596h1v1h-1zM808 596h3v1h-3zM992 596h3v1h-3zM1208 596h1v1h-1zM812 596h1v2h-1zM811 597h1v1h-1zM1012 597h5v1h-5zM794 597h1v2h-1zM807 597h1v2h-1zM1017 598h2v1h-2zM795 599h1v1h-1zM1019 599h1v1h-1zM806 599h1v2h-1zM1057 599h1v4h-1zM796 600h3v1h-3zM1020 600h1v1h-1zM799 601h2v1h-2zM1021 601h2v1h-2zM805 601h1v2h-1zM801 602h2v1h-2zM1023 602h1v1h-1zM803 603h1v1h-1zM1024 603h5v1h-5zM1040 603h1v1h-1zM804 603h1v2h-1zM1056 603h1v3h-1zM1029 604h1v1h-1zM1039 604h1v1h-1zM1041 604h2v1h-2zM1030 605h1v1h-1zM1038 605h1v1h-1zM1043 605h1v1h-1zM1031 606h1v1h-1zM1037 606h1v1h-1zM1044 606h3v1h-3zM1054 606h2v1h-2zM1032 607h5v1h-5zM1047 607h7v1h-7z" fill="#1e90ff"/>
</g>
</g>
<g clip-path="url(#cd)">
<g shape-rendering="crispEdges">
<path d="M4 684h1v9h-1zM8 684h1v9h-1zM12 684h1v8h-1zM16 684h1v8h-1zM20 684h1v7h-1zM24 684h1v7h-1zM28 684h1v7h-1zM32 684h1v6h-1zM36 684h1v6h-1zM40 684h1v6h-1zM44 684h1v6h-1zM48 684h1v5h-1zM52 684h1v4h-1zM56 684h1v2h-1zM60 684h1v2h-1zM64 684h1v1h-1zM68 684h1v1h-1zM72 684h1v1h-1zM76 684h1v1h-1zM80 684h1v1h-1zM84 684h1v1h-1zM88 684h1v1h-1zM92 684h1v1h-1zM96 684h1v2h-1zM100 684h1v2h-1zM104 684h1v2h-1zM108 684h1v2h-1zM112 684h1v2h-1zM116 684h1v2h-1zM120 684h1v2h-1zM124 684h1v3h-1zM128 684h1v3h-1zM132 684h1v4h-1zM136 684h1v4h-1zM140 684h1v4h-1zM144 684h1v4h-1zM148 684h1v2h-1zM152 683h1v2h-1zM156 683h1v2h-1zM160 682h1v3h-1zM164 681h1v4h-1zM168 680h1v5h-1zM172 680h1v5h-1zM176 680h1v5h-1zM180 680h1v5h-1zM184 680h1v5h-1zM188 679h1v6h-1zM192 668h1v17h-1zM196 659h1v26h-1zM200 653h1v32h-1zM204 647h1v38h-1zM208 642h1v43h-1zM212 637h1v48h-1zM216 635h1v50h-1zM220 634h1v51h-1zM224 634h1v51h-1zM228 634h1v51h-1zM232 637h1v48h-1zM236 640h1v45h-1zM240 642h1v43h-1zM244 644h1v41h-1zM248 645h1v40h-1zM252 646h1v39h-1zM256 648h1v37h-1zM260 650h1v35h-1zM264 651h1v34h-1zM268 653h1v32h-1zM272 655h1v30h-1zM276 657h1v28h-1zM280 658h1v27h-1zM284 658h1v27h-1zM288 659h1v26h-1zM292 662h1v23h-1zM296 663h1v22h-1zM300 665h1v20h-1zM304 666h1v19h-1zM308 667h1v18h-1zM312 668h1v17h-1zM316 671h1v14h-1zM320 674h1v11h-1zM324 679h1v6h-1zM328 683h1v2h-1zM332 684h1v1h-1zM336 684h1v3h-1zM340 684h1v4h-1zM344 684h1v5h-1zM348 684h1v5h-1zM352 684h1v6h-1zM356 684h1v7h-1zM360 684h1v8h-1zM364 684h1v7h-1zM368 684h1v6h-1zM372 684h1v5h-1zM376 684h1v5h-1zM380 684h1v4h-1zM384 684h1v3h-1zM388 684h1v2h-1zM392 684h1v3h-1zM396 684h1v4h-1zM400 684h1v4h-1zM404 684h1v4h-1zM408 684h1v3h-1zM412 684h1v3h-1zM416 684h1v3h-1zM420 684h1v3h-1zM424 684h1v3h-1zM428 684h1v3h-1zM432 684h1v2h-1zM436 684h1v2h-1zM440 684h1v2h-1zM444 684h1v2h-1zM448 684h1v2h-1zM452 684h1v2h-1zM456 684h1v1h-1zM460 684h1v1h-1zM464 684h1v1h-1zM468 683h1v2h-1zM472 678h1v7h-1zM476 673h1v12h-1zM480 661h1v24h-1zM484 655h1v30h-1zM488 648h1v37h-1zM492 644h1v41h-1zM496 640h1v45h-1zM500 637h1v48h-1zM504 635h1v50h-1zM508 640h1v45h-1zM512 642h1v43h-1zM516 644h1v41h-1zM520 646h1v39h-1zM524 649h1v36h-1zM528 650h1v35h-1zM532 650h1v35h-1zM536 652h1v33h-1zM540 651h1v34h-1zM544 649h1v36h-1zM548 647h1v38h-1zM552 643h1v42h-1zM556 641h1v44h-1zM560 640h1v45h-1zM564 641h1v44h-1zM568 641h1v44h-1zM572 642h1v43h-1zM576 641h1v44h-1zM580 641h1v44h-1zM584 644h1v41h-1zM588 648h1v37h-1zM592 653h1v32h-1zM596 658h1v27h-1zM600 661h1v24h-1zM604 665h1v20h-1zM608 667h1v18h-1zM612 673h1v12h-1zM616 680h1v5h-1zM620 684h1v1h-1zM624 684h1v1h-1zM628 684h1v1h-1zM632 684h1v1h-1zM636 684h1v1h-1zM640 684h1v1h-1zM644 684h1v1h-1zM648 683h1v2h-1zM652 682h1v3h-1zM656 680h1v5h-1zM660 678h1v7h-1zM664 677h1v8h-1zM668 675h1v10h-1zM672 674h1v11h-1zM676 673h1v12h-1zM680 672h1v13h-1zM684 673h1v12h-1zM688 675h1v10h-1zM692 677h1v8h-1zM696 677h1v8h-1zM700 676h1v9h-1zM704 676h1v9h-1zM708 679h1v6h-1zM712 682h1v3h-1zM716 684h1v1h-1zM720 684h1v3h-1zM724 684h1v4h-1zM728 684h1v4h-1zM732 684h1v6h-1zM736 684h1v6h-1zM740 684h1v8h-1zM744 684h1v8h-1zM748 684h1v8h-1zM752 684h1v10h-1zM756 684h1v10h-1zM760 684h1v11h-1zM764 684h1v12h-1zM768 684h1v12h-1zM772 684h1v12h-1zM776 684h1v12h-1zM780 684h1v13h-1zM784 684h1v14h-1zM788 684h1v14h-1zM792 684h1v14h-1zM796 684h1v17h-1zM800 684h1v20h-1zM804 684h1v22h-1zM808 684h1v23h-1zM812 684h1v24h-1zM816 684h1v22h-1zM820 684h1v21h-1zM824 684h1v19h-1zM828 684h1v18h-1zM832 684h1v17h-1zM836 684h1v16h-1zM840 684h1v14h-1zM844 684h1v12h-1zM848 684h1v10h-1zM852 684h1v8h-1zM856 684h1v6h-1zM860 684h1v4h-1zM864 684h1v4h-1zM868 684h1v4h-1zM872 684h1v4h-1zM876 684h1v4h-1zM880 684h1v3h-1zM884 684h1v2h-1zM888 684h1v2h-1zM892 684h1v1h-1zM896 683h1v2h-1zM900 683h1v2h-1zM904 684h1v1h-1zM908 684h1v1h-1zM912 684h1v1h-1zM916 684h1v1h-1zM920 684h1v1h-1zM924 684h1v4h-1zM928 684h1v5h-1zM932 684h1v6h-1zM936 684h1v7h-1zM940 684h1v8h-1zM944 684h1v8h-1zM948 684h1v8h-1zM952 684h1v8h-1zM956 684h1v8h-1zM960 684h1v8h-1zM964 684h1v8h-1zM968 684h1v8h-1zM972 684h1v8h-1zM976 684h1v8h-1zM980 684h1v8h-1zM984 684h1v9h-1zM988 684h1v11h-1zM992 684h1v12h-1zM996 684h1v14h-1zM1000 684h1v14h-1zM1004 684h1v14h-1zM1008 684h1v13h-1zM1012 684h1v14h-1zM1016 684h1v16h-1zM1020 684h1v17h-1zM1024 684h1v19h-1zM1028 684h1v21h-1zM1032 684h1v24h-1zM1036 684h1v26h-1zM1040 684h1v27h-1zM1044 684h1v28h-1zM1048 684h1v30h-1zM1052 684h1v30h-1zM1056 684h1v30h-1zM1060 684h1v27h-1zM1064 684h1v24h-1zM1068 684h1v20h-1zM1072 684h1v17h-1zM1076 684h1v14h-1zM1080 684h1v8h-1zM1084 684h1v4h-1zM1088 684h1v1h-1zM1092 682h1v3h-1zM1096 678h1v7h-1zM1100 676h1v9h-1zM1104 672h1v13h-1zM1108 672h1v13h-1zM1112 673h1v12h-1zM1116 674h1v11h-1zM1120 673h1v12h-1zM1124 671h1v14h-1zM1128 672h1v13h-1zM1132 674h1v11h-1zM1136 675h1v10h-1zM1140 676h1v9h-1zM1144 676h1v9h-1zM1148 676h1v9h-1zM1152 676h1v9h-1zM1156 675h1v10h-1zM1160 673h1v12h-1zM1164 672h1v13h-1zM1168 670h1v15h-1zM1172 669h1v16h-1zM1176 669h1v16h-1zM1180 669h1v16h-1zM1184 670h1v15h-1zM1188 671h1v14h-1zM1192 674h1v11h-1zM1196 677h1v8h-1zM1200 681h1v4h-1zM1204 684h1v1h-1zM1208 684h1v5h-1zM1212 684h1v8h-1zM1216 684h1v10h-1zM1220 684h1v12h-1zM1224 684h1v12h-1zM1228 684h1v11h-1zM1232 684h1v10h-1zM1236 684h1v4h-1zM1240 684h1v1h-1zM1244 681h1v4h-1zM1248 681h1v4h-1zM1252 678h1v7h-1zM1256 673h1v12h-1zM1260 664h1v21h-1zM1264 658h1v27h-1zM1268 654h1v31h-1z" fill="#c0c0c0"/>
</g>
<g shape-rendering="crispEdges">
<path d="M235 636h2v1h-2zM240 636h3v1h-3zM246 636h3v1h-3zM234 637h1v1h-1zM252 638h2v1h-2zM230 639h1v1h-1zM254 639h1v1h-1zM229 640h1v1h-1zM258 640h1v1h-1zM583 640h3v1h-3zM228 641h1v1h-1zM259 641h2v1h-2zM519 641h1v1h-1zM523 641h3v1h-3zM579 641h1v1h-1zM589 641h3v1h-3zM517 642h2v1h-2zM529 642h2v1h-2zM577 642h2v1h-2zM595 642h1v1h-1zM264 643h2v1h-2zM531 643h1v1h-1zM571 643h3v1h-3zM596 643h2v1h-2zM266 644h1v1h-1zM512 644h2v1h-2zM535 644h3v1h-3zM567 644h1v1h-1zM224 645h1v1h-1zM511 645h1v1h-1zM559 645h3v1h-3zM565 645h2v1h-2zM223 646h1v1h-1zM270 646h2v1h-2zM541 646h2v1h-2zM555 646h1v1h-1zM601 646h2v1h-2zM222 647h1v1h-1zM272 647h1v1h-1zM543 647h1v1h-1zM553 647h2v1h-2zM603 647h1v1h-1zM276 648h2v1h-2zM507 648h1v1h-1zM547 648h3v1h-3zM278 649h1v1h-1zM506 649h1v2h-1zM282 650h1v1h-1zM607 650h1v1h-1zM219 651h1v1h-1zM283 651h2v1h-2zM608 651h1v1h-1zM288 652h2v1h-2zM609 652h1v1h-1zM218 652h1v2h-1zM290 653h1v1h-1zM294 654h1v1h-1zM502 654h1v2h-1zM295 655h2v1h-2zM501 656h1v1h-1zM613 656h1v1h-1zM300 657h3v1h-3zM614 657h1v1h-1zM214 657h1v2h-1zM615 658h1v1h-1zM213 659h1v1h-1zM306 659h2v1h-2zM308 660h1v1h-1zM498 660h1v1h-1zM312 661h3v1h-3zM497 661h1v2h-1zM318 662h1v1h-1zM619 662h1v1h-1zM209 663h1v1h-1zM319 663h2v1h-2zM620 663h1v1h-1zM208 664h1v1h-1zM621 664h1v1h-1zM207 665h1v1h-1zM324 666h1v1h-1zM493 666h1v1h-1zM325 667h2v1h-2zM492 667h1v1h-1zM491 668h1v1h-1zM625 668h1v1h-1zM204 669h1v1h-1zM626 669h1v1h-1zM203 670h1v1h-1zM330 670h1v1h-1zM627 670h1v1h-1zM1189 670h3v1h-3zM1195 670h3v1h-3zM202 671h1v1h-1zM331 671h1v1h-1zM1183 671h3v1h-3zM1201 671h1v1h-1zM332 672h1v1h-1zM487 672h1v1h-1zM1129 672h3v1h-3zM1135 672h3v1h-3zM1141 672h3v1h-3zM1177 672h3v1h-3zM1202 672h2v1h-2zM486 673h1v1h-1zM1124 673h2v1h-2zM1147 673h3v1h-3zM1153 673h2v1h-2zM1167 673h1v1h-1zM1171 673h3v1h-3zM197 674h2v1h-2zM336 674h1v1h-1zM485 674h1v1h-1zM631 674h1v1h-1zM687 674h1v1h-1zM691 674h3v1h-3zM697 674h3v1h-3zM703 674h3v1h-3zM709 674h2v1h-2zM1123 674h1v1h-1zM1155 674h1v1h-1zM1159 674h3v1h-3zM1165 674h2v1h-2zM1207 674h1v1h-1zM1268 674h1v1h-1zM196 675h1v1h-1zM337 675h2v1h-2zM632 675h1v1h-1zM679 675h3v1h-3zM685 675h2v1h-2zM711 675h1v1h-1zM1208 675h1v1h-1zM1267 675h1v1h-1zM633 676h1v1h-1zM715 676h1v1h-1zM1118 676h2v1h-2zM1209 676h1v1h-1zM1266 676h1v1h-1zM674 677h2v1h-2zM716 677h2v1h-2zM1117 677h1v1h-1zM192 678h1v1h-1zM342 678h2v1h-2zM482 678h1v1h-1zM673 678h1v1h-1zM190 679h2v1h-2zM344 679h1v1h-1zM481 679h1v1h-1zM637 679h2v1h-2zM721 679h2v1h-2zM1112 679h2v1h-2zM1213 679h2v1h-2zM184 680h3v1h-3zM480 680h1v1h-1zM639 680h1v1h-1zM668 680h2v1h-2zM723 680h1v1h-1zM1111 680h1v1h-1zM1215 680h1v1h-1zM1263 680h1v1h-1zM179 681h2v1h-2zM348 681h1v1h-1zM667 681h1v1h-1zM727 681h1v1h-1zM1262 681h1v1h-1zM178 682h1v1h-1zM349 682h2v1h-2zM476 682h1v1h-1zM643 682h3v1h-3zM663 682h1v1h-1zM728 682h2v1h-2zM1261 682h1v1h-1zM172 683h3v1h-3zM474 683h2v1h-2zM655 683h3v1h-3zM661 683h2v1h-2zM733 683h1v1h-1zM1107 683h1v1h-1zM1219 683h1v1h-1zM167 684h2v1h-2zM649 684h3v1h-3zM734 684h2v1h-2zM907 684h3v1h-3zM913 684h3v1h-3zM919 684h3v1h-3zM925 684h2v1h-2zM1106 684h1v1h-1zM1220 684h2v1h-2zM82 685h3v1h-3zM88 685h3v1h-3zM94 685h3v1h-3zM160 685h3v1h-3zM166 685h1v1h-1zM354 685h2v1h-2zM463 685h2v1h-2zM468 685h3v1h-3zM903 685h1v1h-1zM927 685h1v1h-1zM931 685h3v1h-3zM1105 685h1v1h-1zM1257 685h1v1h-1zM71 686h2v1h-2zM76 686h3v1h-3zM100 686h3v1h-3zM106 686h3v1h-3zM112 686h3v1h-3zM118 686h3v1h-3zM124 686h3v1h-3zM130 686h1v1h-1zM155 686h2v1h-2zM356 686h1v1h-1zM444 686h3v1h-3zM450 686h3v1h-3zM456 686h3v1h-3zM462 686h1v1h-1zM739 686h1v1h-1zM895 686h3v1h-3zM901 686h2v1h-2zM937 686h1v1h-1zM1225 686h1v1h-1zM1256 686h1v1h-1zM64 687h3v1h-3zM70 687h1v1h-1zM131 687h2v1h-2zM136 687h3v1h-3zM142 687h3v1h-3zM154 687h1v1h-1zM408 687h3v1h-3zM414 687h3v1h-3zM420 687h3v1h-3zM426 687h3v1h-3zM432 687h3v1h-3zM438 687h3v1h-3zM740 687h2v1h-2zM889 687h3v1h-3zM938 687h2v1h-2zM1226 687h2v1h-2zM1255 687h1v1h-1zM59 688h2v1h-2zM148 688h3v1h-3zM360 688h3v1h-3zM396 688h3v1h-3zM402 688h3v1h-3zM883 688h3v1h-3zM1251 688h1v1h-1zM52 689h3v1h-3zM58 689h1v1h-1zM366 689h1v1h-1zM390 689h3v1h-3zM745 689h2v1h-2zM943 689h3v1h-3zM1101 689h1v1h-1zM1249 689h2v1h-2zM46 690h3v1h-3zM367 690h2v1h-2zM372 690h3v1h-3zM378 690h3v1h-3zM384 690h3v1h-3zM747 690h1v1h-1zM878 690h2v1h-2zM949 690h3v1h-3zM1100 690h1v1h-1zM1231 690h1v1h-1zM35 691h2v1h-2zM40 691h3v1h-3zM751 691h3v1h-3zM877 691h1v1h-1zM955 691h3v1h-3zM1099 691h1v1h-1zM1232 691h2v1h-2zM1239 691h1v1h-1zM1243 691h3v1h-3zM28 692h3v1h-3zM34 692h1v1h-1zM871 692h3v1h-3zM961 692h3v1h-3zM979 692h3v1h-3zM985 692h3v1h-3zM1237 692h2v1h-2zM23 693h2v1h-2zM757 693h3v1h-3zM967 693h3v1h-3zM973 693h3v1h-3zM991 693h3v1h-3zM22 694h1v1h-1zM763 694h3v1h-3zM769 694h2v1h-2zM866 694h2v1h-2zM997 694h2v1h-2zM1095 694h1v1h-1zM16 695h3v1h-3zM771 695h1v1h-1zM775 695h3v1h-3zM781 695h2v1h-2zM865 695h1v1h-1zM999 695h1v1h-1zM1003 695h3v1h-3zM1093 695h2v1h-2zM11 696h2v1h-2zM783 696h1v1h-1zM787 696h3v1h-3zM860 696h2v1h-2zM1009 696h3v1h-3zM10 697h1v1h-1zM793 697h3v1h-3zM859 697h1v1h-1zM1015 697h3v1h-3zM4 698h3v1h-3zM799 698h3v1h-3zM855 698h1v1h-1zM1021 698h2v1h-2zM1089 698h1v1h-1zM805 699h1v1h-1zM853 699h2v1h-2zM1023 699h1v1h-1zM1088 699h1v1h-1zM806 700h2v1h-2zM1027 700h3v1h-3zM1087 700h1v1h-1zM847 701h3v1h-3zM1033 701h2v1h-2zM811 702h3v1h-3zM843 702h1v1h-1zM1035 702h1v1h-1zM817 703h2v1h-2zM841 703h2v1h-2zM1039 703h3v1h-3zM819 704h1v1h-1zM823 704h3v1h-3zM1083 704h1v1h-1zM829 705h3v1h-3zM835 705h3v1h-3zM1045 705h1v1h-1zM1081 705h2v1h-2zM1046 706h2v1h-2zM1051 708h1v1h-1zM1076 708h2v1h-2zM1052 709h2v1h-2zM1075 709h1v1h-1zM1057 710h2v1h-2zM1071 710h1v1h-1zM1059 711h1v1h-1zM1063 711h3v1h-3zM1069 711h2v1h-2z" fill="#ff0000"/>
</g>
</g>
<text x="43.8" y="12.9" font-size="9.8" fill="#404040" textLength="12.2" lengthAdjust="spacingAndGlyphs">M1</text>
<text x="71.7" y="12.9" font-size="9.8" fill="#404040" textLength="12.3" lengthAdjust="spacingAndGlyphs">M5</text>
<text x="97.5" y="12.9" font-size="9.8" fill="#404040" textLength="17.7" lengthAdjust="spacingAndGlyphs">M15</text>
<text x="125.6" y="12.9" font-size="9.8" fill="#404040" textLength="17.4" lengthAdjust="spacingAndGlyphs">M30</text>
<text x="156.6" y="12.9" font-size="9.8" fill="#404040" textLength="11.7" lengthAdjust="spacingAndGlyphs">H1</text>
<text x="183.5" y="12.9" font-size="9.8" fill="#404040" textLength="12.4" lengthAdjust="spacingAndGlyphs">H4</text>
<text x="212.8" y="12.9" font-size="9.8" fill="#404040" textLength="11.4" lengthAdjust="spacingAndGlyphs">D1</text>
<text x="240.1" y="12.9" font-size="9.8" fill="#404040" textLength="14" lengthAdjust="spacingAndGlyphs">W1</text>
<text x="266.8" y="12.9" font-size="9.8" fill="#404040" textLength="14.5" lengthAdjust="spacingAndGlyphs">MN</text>
<path shape-rendering="crispEdges" d="M17 8h5v1h-5zM18 9h3v1h-3zM19 10h1v1h-1z" fill="#000"/>
<path d="M0 4.3h1.4l1.6 1.8v1.2h-3z" fill="#505050"/><path d="M4.9 7.4L0 12.4" stroke="#404040" stroke-width="1.2" fill="none"/><path d="M5.1 11.3h2.6v1h2.3L6.45 16L3.2 12.3h1.9z" fill="#505050"/>
<path shape-rendering="crispEdges" d="M7 32h7v1h-7zM8 33h5v1h-5zM9 34h3v1h-3zM10 35h1v1h-1z" fill="#000"/>
<text x="19.6" y="36.8" font-size="9.6" fill="#000" textLength="65" lengthAdjust="spacingAndGlyphs">USDCNH,Daily</text>
<text x="91" y="36.8" font-size="9.6" fill="#000" textLength="140.8" lengthAdjust="spacingAndGlyphs">7.13068 7.13836 7.12516 7.13167</text>
<text x="8.3" y="545.8" font-size="9.6" fill="#000" textLength="68" lengthAdjust="spacingAndGlyphs">RSI(14) 69.6345</text>
<text x="8.3" y="640" font-size="9.6" fill="#000" textLength="147.3" lengthAdjust="spacingAndGlyphs">MACD(12,26,9) 0.035023 0.013112</text>
<text x="1602" y="37" font-size="9.7" fill="#000" textLength="32.8" lengthAdjust="spacingAndGlyphs">7.21360</text>
<text x="1602" y="70" font-size="9.7" fill="#000" textLength="32.8" lengthAdjust="spacingAndGlyphs">7.17620</text>
<text x="1602" y="103" font-size="9.7" fill="#000" textLength="32.8" lengthAdjust="spacingAndGlyphs">7.13990</text>
<text x="1602" y="136" font-size="9.7" fill="#000" textLength="32.8" lengthAdjust="spacingAndGlyphs">7.10250</text>
<text x="1602" y="169" font-size="9.7" fill="#000" textLength="32.8" lengthAdjust="spacingAndGlyphs">7.06510</text>
<text x="1602" y="202" font-size="9.7" fill="#000" textLength="32.8" lengthAdjust="spacingAndGlyphs">7.02880</text>
<text x="1602" y="235" font-size="9.7" fill="#000" textLength="32.8" lengthAdjust="spacingAndGlyphs">6.99140</text>
<text x="1602" y="268" font-size="9.7" fill="#000" textLength="32.8" lengthAdjust="spacingAndGlyphs">6.95510</text>
<text x="1602" y="301" font-size="9.7" fill="#000" textLength="32.8" lengthAdjust="spacingAndGlyphs">6.91770</text>
<text x="1602" y="334" font-size="9.7" fill="#000" textLength="32.8" lengthAdjust="spacingAndGlyphs">6.88030</text>
<text x="1602" y="367" font-size="9.7" fill="#000" textLength="32.8" lengthAdjust="spacingAndGlyphs">6.84400</text>
<text x="1602" y="400" font-size="9.7" fill="#000" textLength="32.8" lengthAdjust="spacingAndGlyphs">6.80660</text>
<text x="1602" y="433" font-size="9.7" fill="#000" textLength="32.8" lengthAdjust="spacingAndGlyphs">6.76920</text>
<text x="1602" y="466" font-size="9.7" fill="#000" textLength="32.8" lengthAdjust="spacingAndGlyphs">6.73290</text>
<text x="1602" y="499" font-size="9.7" fill="#000" textLength="32.8" lengthAdjust="spacingAndGlyphs">6.69550</text>
<text x="1602" y="532" font-size="9.7" fill="#000" textLength="32.8" lengthAdjust="spacingAndGlyphs">6.65920</text>
<g shape-rendering="crispEdges">
<rect x="1598" y="101" width="40" height="11" fill="#000"/>
<rect x="1598" y="37" width="40" height="11" fill="#ff0000"/>
<rect x="1598" y="128" width="40" height="11" fill="#ff0000"/>
<rect x="1598" y="217" width="40" height="11" fill="#00ff00"/>
<rect x="1598" y="322" width="40" height="11" fill="#0000ff"/>
<rect x="1598" y="430" width="40" height="11" fill="#0000ff"/>
</g>
<text x="1602" y="109.8" font-size="9.7" fill="#fff" textLength="32.8" lengthAdjust="spacingAndGlyphs">7.13167</text>
<text x="1602" y="45.8" font-size="9.7" fill="#fff" textLength="32.8" lengthAdjust="spacingAndGlyphs">7.20193</text>
<text x="1602" y="136.8" font-size="9.7" fill="#fff" textLength="32.8" lengthAdjust="spacingAndGlyphs">7.10011</text>
<text x="1602" y="225.8" font-size="9.7" fill="#fff" textLength="32.8" lengthAdjust="spacingAndGlyphs">7.00029</text>
<text x="1602" y="330.8" font-size="9.7" fill="#fff" textLength="32.8" lengthAdjust="spacingAndGlyphs">6.88250</text>
<text x="1602" y="438.8" font-size="9.7" fill="#fff" textLength="32.8" lengthAdjust="spacingAndGlyphs">6.76171</text>
<text x="1600.6" y="544" font-size="9.4" fill="#000" textLength="14.4" lengthAdjust="spacingAndGlyphs">100</text>
<text x="1599.6" y="565" font-size="9.4" fill="#000" textLength="9.6" lengthAdjust="spacingAndGlyphs">70</text>
<text x="1599.6" y="601" font-size="9.4" fill="#000" textLength="9.6" lengthAdjust="spacingAndGlyphs">30</text>
<text x="1600.6" y="622" font-size="9.4" fill="#000" textLength="4.6" lengthAdjust="spacingAndGlyphs">0</text>
<text x="1600.6" y="638" font-size="9.4" fill="#000" textLength="37.6" lengthAdjust="spacingAndGlyphs">0.063113</text>
<text x="1600.6" y="688" font-size="9.4" fill="#000" textLength="16.8" lengthAdjust="spacingAndGlyphs">0.00</text>
<text x="1600.6" y="716" font-size="9.4" fill="#000" textLength="40.6" lengthAdjust="spacingAndGlyphs">-0.038872</text>
<text x="3.6" y="732.3" font-size="9.15" fill="#000">12 Mar 2019</text>
<text x="67.6" y="732.3" font-size="9.15" fill="#000">30 Mar 2019</text>
<text x="131.6" y="732.3" font-size="9.15" fill="#000">18 Apr 2019</text>
<text x="195.6" y="732.3" font-size="9.15" fill="#000">14 May 2019</text>
<text x="259.6" y="732.3" font-size="9.15" fill="#000">1 Jun 2019</text>
<text x="323.6" y="732.3" font-size="9.15" fill="#000">20 Jun 2019</text>
<text x="387.6" y="732.3" font-size="9.15" fill="#000">9 Jul 2019</text>
<text x="451.6" y="732.3" font-size="9.15" fill="#000">27 Jul 2019</text>
<text x="515.6" y="732.3" font-size="9.15" fill="#000">15 Aug 2019</text>
<text x="579.6" y="732.3" font-size="9.15" fill="#000">3 Sep 2019</text>
<text x="643.6" y="732.3" font-size="9.15" fill="#000">21 Sep 2019</text>
<text x="707.6" y="732.3" font-size="9.15" fill="#000">10 Oct 2019</text>
<text x="771.6" y="732.3" font-size="9.15" fill="#000">29 Oct 2019</text>
<text x="835.6" y="732.3" font-size="9.15" fill="#000">16 Nov 2019</text>
<text x="899.6" y="732.3" font-size="9.15" fill="#000">5 Dec 2019</text>
<text x="963.6" y="732.3" font-size="9.15" fill="#000">24 Dec 2019</text>
<text x="1027.6" y="732.3" font-size="9.15" fill="#000">11 Jan 2020</text>
<text x="1091.6" y="732.3" font-size="9.15" fill="#000">30 Jan 2020</text>
<text x="1155.6" y="732.3" font-size="9.15" fill="#000">18 Feb 2020</text>
<text x="1219.6" y="732.3" font-size="9.15" fill="#000">7 Mar 2020</text>
<text x="17.7" y="756.9" font-size="12.4" fill="#7a7a7a" textLength="79" lengthAdjust="spacingAndGlyphs">EURUSD,Daily</text>
<text x="119.3" y="756.9" font-size="12.4" fill="#7a7a7a" textLength="79" lengthAdjust="spacingAndGlyphs">USDCHF,Daily</text>
<text x="220.0" y="756.9" font-size="12.4" fill="#7a7a7a" textLength="82.2" lengthAdjust="spacingAndGlyphs">AUDUSD,Daily</text>
<text x="324.3" y="756.9" font-size="12.4" fill="#7a7a7a" textLength="80.7" lengthAdjust="spacingAndGlyphs">USDCAD,Daily</text>
<text x="427.2" y="756.9" font-size="12.4" fill="#000" textLength="82.7" lengthAdjust="spacingAndGlyphs">USDCNH,Daily</text>
<text x="532.6" y="756.9" font-size="12.4" fill="#7a7a7a" textLength="80.6" lengthAdjust="spacingAndGlyphs">EURUSD,Daily</text>
<text x="637.5" y="756.9" font-size="12.4" fill="#7a7a7a" textLength="67" lengthAdjust="spacingAndGlyphs">GBPUSD,H4</text>
<text x="728.2" y="756.9" font-size="12.4" fill="#7a7a7a" textLength="68.5" lengthAdjust="spacingAndGlyphs">XAUUSD,H1</text>
<text x="820.5" y="756.9" font-size="12.4" fill="#7a7a7a" textLength="49.1" lengthAdjust="spacingAndGlyphs">HK50,H1</text>
<text x="892.4" y="756.9" font-size="12.4" fill="#7a7a7a" textLength="55.8" lengthAdjust="spacingAndGlyphs">UK100,H1</text>
<text x="972.3" y="756.9" font-size="12.4" fill="#7a7a7a" textLength="55.8" lengthAdjust="spacingAndGlyphs">UK100,H1</text>
<text x="1052.2" y="756.9" font-size="12.4" fill="#7a7a7a" textLength="56" lengthAdjust="spacingAndGlyphs">GER30,H1</text>
<text x="1131.4" y="756.9" font-size="12.4" fill="#7a7a7a" textLength="54.2" lengthAdjust="spacingAndGlyphs">FRA40,H1</text>
<text x="1207.3" y="756.9" font-size="12.4" fill="#7a7a7a" textLength="50.3" lengthAdjust="spacingAndGlyphs">USOil,H1</text>
<path d="M1615 748v6l-3.4 -3z" fill="#9a9a9a"/><path d="M1631 748v6l3.4 -3z" fill="#9a9a9a"/>
</svg></body></html>
